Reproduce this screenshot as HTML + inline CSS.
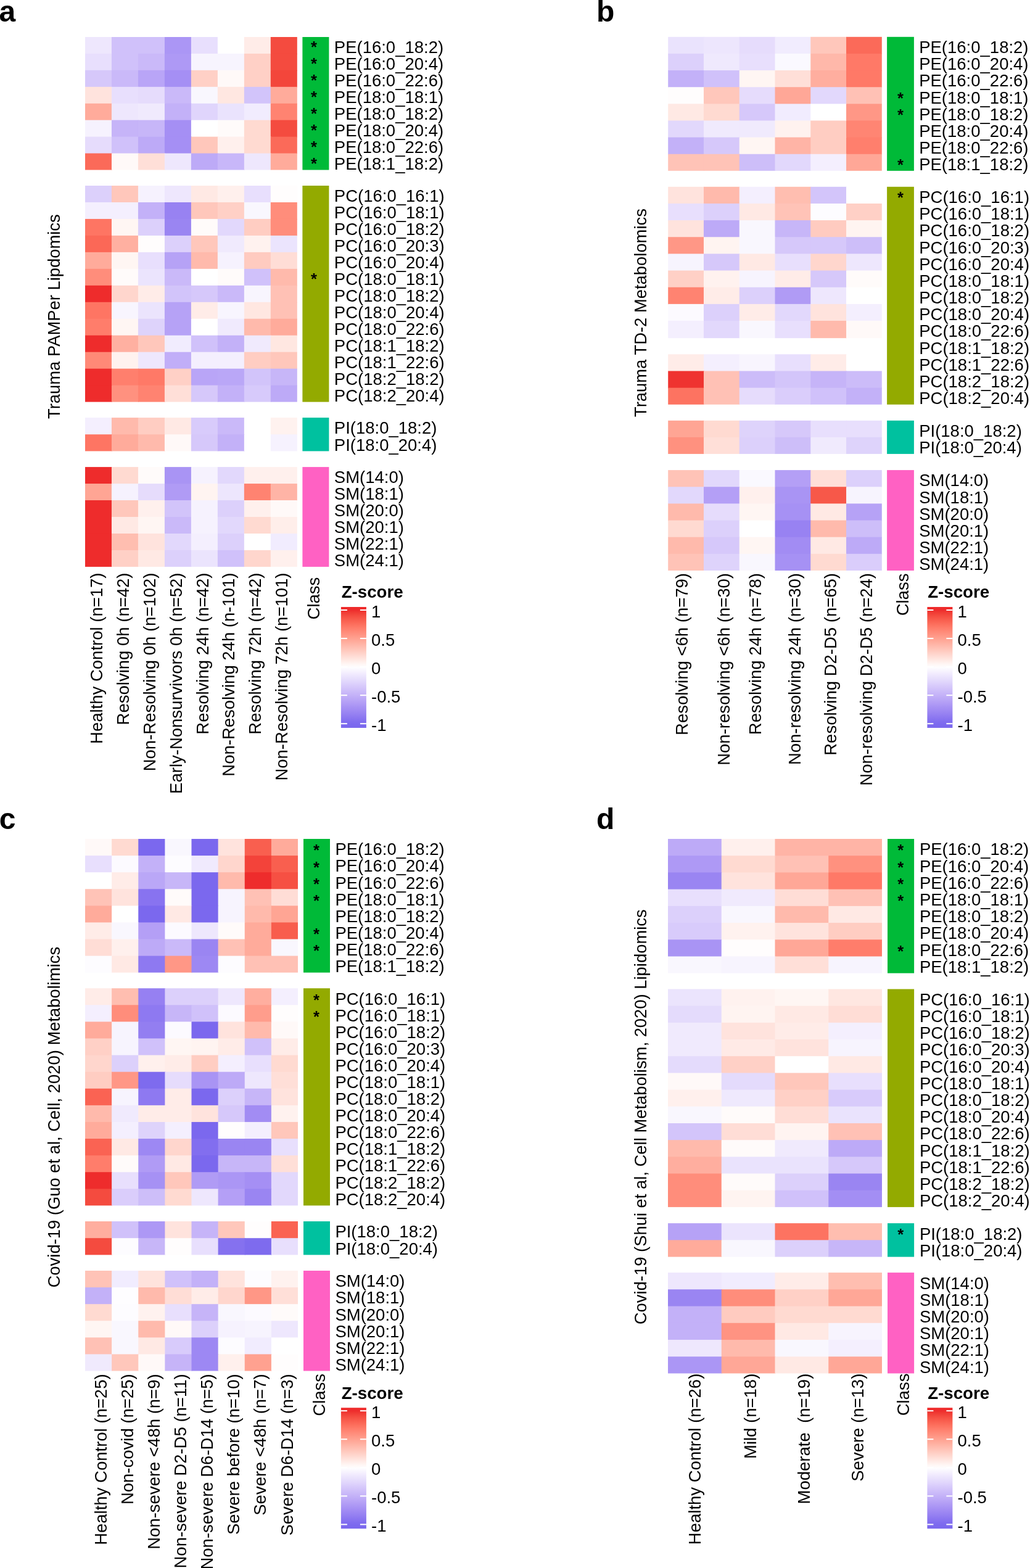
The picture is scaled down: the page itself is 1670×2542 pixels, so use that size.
<!DOCTYPE html>
<html><head><meta charset="utf-8"><title>Heatmaps</title>
<style>
html,body{margin:0;padding:0;background:#fff;}
svg{display:block;}
text{font-family:"Liberation Sans",Arial,sans-serif;fill:#000;}
.rl{font-size:27.5px;}
.cl{font-size:27.5px;text-anchor:end;}
.tt{font-size:27.4px;text-anchor:middle;}
.st{font-size:25.5px;font-weight:bold;text-anchor:middle;}
.lt{font-size:48px;font-weight:bold;}
.zt{font-size:27.7px;font-weight:bold;}
.ll{font-size:27.5px;}
</style></head><body>
<svg width="1670" height="2542" viewBox="0 0 1670 2542">
<defs><linearGradient id="grad" x1="0" y1="0" x2="0" y2="1"><stop offset="0.0000" stop-color="#ee2c2c"/><stop offset="0.0250" stop-color="#ee2c2c"/><stop offset="0.0500" stop-color="#f13e36"/><stop offset="0.0750" stop-color="#f54d41"/><stop offset="0.1000" stop-color="#f85a4b"/><stop offset="0.1250" stop-color="#fb6655"/><stop offset="0.1500" stop-color="#fd7260"/><stop offset="0.1750" stop-color="#ff7d6b"/><stop offset="0.2000" stop-color="#ff8876"/><stop offset="0.2250" stop-color="#ff9281"/><stop offset="0.2500" stop-color="#ff9d8c"/><stop offset="0.2750" stop-color="#ffa797"/><stop offset="0.3000" stop-color="#ffb1a2"/><stop offset="0.3250" stop-color="#ffbbae"/><stop offset="0.3500" stop-color="#ffc5b9"/><stop offset="0.3750" stop-color="#ffcfc5"/><stop offset="0.4000" stop-color="#ffd9d1"/><stop offset="0.4250" stop-color="#ffe3dd"/><stop offset="0.4500" stop-color="#ffede9"/><stop offset="0.4750" stop-color="#fff7f5"/><stop offset="0.5000" stop-color="#fefdff"/><stop offset="0.5250" stop-color="#f8f5fe"/><stop offset="0.5500" stop-color="#f2ecfe"/><stop offset="0.5750" stop-color="#ebe4fd"/><stop offset="0.6000" stop-color="#e5dcfc"/><stop offset="0.6250" stop-color="#dfd4fc"/><stop offset="0.6500" stop-color="#d8cbfb"/><stop offset="0.6750" stop-color="#d2c3fa"/><stop offset="0.7000" stop-color="#cbbbf9"/><stop offset="0.7250" stop-color="#c5b3f8"/><stop offset="0.7500" stop-color="#beabf7"/><stop offset="0.7750" stop-color="#b7a3f6"/><stop offset="0.8000" stop-color="#b09bf5"/><stop offset="0.8250" stop-color="#a893f4"/><stop offset="0.8500" stop-color="#a18bf3"/><stop offset="0.8750" stop-color="#9984f2"/><stop offset="0.9000" stop-color="#917cf1"/><stop offset="0.9250" stop-color="#8974f0"/><stop offset="0.9500" stop-color="#806def"/><stop offset="0.9750" stop-color="#7b68ee"/><stop offset="1.0000" stop-color="#7b68ee"/></linearGradient></defs>
<rect width="1670" height="2542" fill="#fff"/>
<rect x="138" y="60" width="43.98" height="27.94" fill="#eee7fd"/>
<rect x="180.97" y="60" width="43.98" height="27.94" fill="#d0c1fa"/>
<rect x="223.95" y="60" width="43.98" height="27.94" fill="#d0c1fa"/>
<rect x="266.93" y="60" width="43.98" height="27.94" fill="#ab96f5"/>
<rect x="309.9" y="60" width="43.98" height="27.94" fill="#e8dffd"/>
<rect x="352.88" y="60" width="43.98" height="27.94" fill="#ffffff"/>
<rect x="395.85" y="60" width="43.98" height="27.94" fill="#ffece8"/>
<rect x="438.82" y="60" width="42.98" height="27.94" fill="#f44b3f"/>
<rect x="138" y="86.94" width="43.98" height="27.94" fill="#e8dffd"/>
<rect x="180.97" y="86.94" width="43.98" height="27.94" fill="#d0c1fa"/>
<rect x="223.95" y="86.94" width="43.98" height="27.94" fill="#cab9f9"/>
<rect x="266.93" y="86.94" width="43.98" height="27.94" fill="#ae99f5"/>
<rect x="309.9" y="86.94" width="43.98" height="27.94" fill="#f7f4fe"/>
<rect x="352.88" y="86.94" width="43.98" height="27.94" fill="#f7f4fe"/>
<rect x="395.85" y="86.94" width="43.98" height="27.94" fill="#ffd0c6"/>
<rect x="438.82" y="86.94" width="42.98" height="27.94" fill="#f44b3f"/>
<rect x="138" y="113.88" width="43.98" height="27.94" fill="#d6c8fa"/>
<rect x="180.97" y="113.88" width="43.98" height="27.94" fill="#cab9f9"/>
<rect x="223.95" y="113.88" width="43.98" height="27.94" fill="#b9a5f7"/>
<rect x="266.93" y="113.88" width="43.98" height="27.94" fill="#a58ff4"/>
<rect x="309.9" y="113.88" width="43.98" height="27.94" fill="#ffd0c6"/>
<rect x="352.88" y="113.88" width="43.98" height="27.94" fill="#fff9f8"/>
<rect x="395.85" y="113.88" width="43.98" height="27.94" fill="#ffd0c6"/>
<rect x="438.82" y="113.88" width="42.98" height="27.94" fill="#f3463b"/>
<rect x="138" y="140.81" width="43.98" height="27.94" fill="#ffe3dd"/>
<rect x="180.97" y="140.81" width="43.98" height="27.94" fill="#e8dffd"/>
<rect x="223.95" y="140.81" width="43.98" height="27.94" fill="#e6dcfc"/>
<rect x="266.93" y="140.81" width="43.98" height="27.94" fill="#cab9f9"/>
<rect x="309.9" y="140.81" width="43.98" height="27.94" fill="#f9f7fe"/>
<rect x="352.88" y="140.81" width="43.98" height="27.94" fill="#ffe7e1"/>
<rect x="395.85" y="140.81" width="43.98" height="27.94" fill="#d2c4fa"/>
<rect x="438.82" y="140.81" width="42.98" height="27.94" fill="#ffab9b"/>
<rect x="138" y="167.75" width="43.98" height="27.94" fill="#ffab9b"/>
<rect x="180.97" y="167.75" width="43.98" height="27.94" fill="#eee7fd"/>
<rect x="223.95" y="167.75" width="43.98" height="27.94" fill="#f0eafd"/>
<rect x="266.93" y="167.75" width="43.98" height="27.94" fill="#c3b1f8"/>
<rect x="309.9" y="167.75" width="43.98" height="27.94" fill="#e0d5fc"/>
<rect x="352.88" y="167.75" width="43.98" height="27.94" fill="#eae3fd"/>
<rect x="395.85" y="167.75" width="43.98" height="27.94" fill="#f1ecfe"/>
<rect x="438.82" y="167.75" width="42.98" height="27.94" fill="#ff8371"/>
<rect x="138" y="194.69" width="43.98" height="27.94" fill="#f6f2fe"/>
<rect x="180.97" y="194.69" width="43.98" height="27.94" fill="#c6b4f8"/>
<rect x="223.95" y="194.69" width="43.98" height="27.94" fill="#c7b6f8"/>
<rect x="266.93" y="194.69" width="43.98" height="27.94" fill="#a58ff4"/>
<rect x="309.9" y="194.69" width="43.98" height="27.94" fill="#ffffff"/>
<rect x="352.88" y="194.69" width="43.98" height="27.94" fill="#fffbfa"/>
<rect x="395.85" y="194.69" width="43.98" height="27.94" fill="#ffdad1"/>
<rect x="438.82" y="194.69" width="42.98" height="27.94" fill="#f44b3f"/>
<rect x="138" y="221.62" width="43.98" height="27.94" fill="#e6dcfc"/>
<rect x="180.97" y="221.62" width="43.98" height="27.94" fill="#d0c1fa"/>
<rect x="223.95" y="221.62" width="43.98" height="27.94" fill="#bdaaf7"/>
<rect x="266.93" y="221.62" width="43.98" height="27.94" fill="#a58ff4"/>
<rect x="309.9" y="221.62" width="43.98" height="27.94" fill="#ffc7bb"/>
<rect x="352.88" y="221.62" width="43.98" height="27.94" fill="#fff0ed"/>
<rect x="395.85" y="221.62" width="43.98" height="27.94" fill="#ffdad1"/>
<rect x="438.82" y="221.62" width="42.98" height="27.94" fill="#fb6a59"/>
<rect x="138" y="248.56" width="43.98" height="26.94" fill="#fb6a59"/>
<rect x="180.97" y="248.56" width="43.98" height="26.94" fill="#fff9f8"/>
<rect x="223.95" y="248.56" width="43.98" height="26.94" fill="#ffdfd8"/>
<rect x="266.93" y="248.56" width="43.98" height="26.94" fill="#eee7fd"/>
<rect x="309.9" y="248.56" width="43.98" height="26.94" fill="#bdaaf7"/>
<rect x="352.88" y="248.56" width="43.98" height="26.94" fill="#c8b7f9"/>
<rect x="395.85" y="248.56" width="43.98" height="26.94" fill="#eee7fd"/>
<rect x="438.82" y="248.56" width="42.98" height="26.94" fill="#ffab9b"/>
<rect x="490.4" y="60" width="43" height="215.5" fill="#00BA38"/>
<rect x="138" y="301" width="43.98" height="27.97" fill="#dcd0fb"/>
<rect x="180.97" y="301" width="43.98" height="27.97" fill="#ffc7bb"/>
<rect x="223.95" y="301" width="43.98" height="27.97" fill="#f6f2fe"/>
<rect x="266.93" y="301" width="43.98" height="27.97" fill="#eee7fd"/>
<rect x="309.9" y="301" width="43.98" height="27.97" fill="#ffe9e4"/>
<rect x="352.88" y="301" width="43.98" height="27.97" fill="#fff0ed"/>
<rect x="395.85" y="301" width="43.98" height="27.97" fill="#e8dffd"/>
<rect x="438.82" y="301" width="42.98" height="27.97" fill="#fffdfd"/>
<rect x="138" y="327.97" width="43.98" height="27.97" fill="#f4effe"/>
<rect x="180.97" y="327.97" width="43.98" height="27.97" fill="#f4effe"/>
<rect x="223.95" y="327.97" width="43.98" height="27.97" fill="#c3b1f8"/>
<rect x="266.93" y="327.97" width="43.98" height="27.97" fill="#9882f2"/>
<rect x="309.9" y="327.97" width="43.98" height="27.97" fill="#ffc7bb"/>
<rect x="352.88" y="327.97" width="43.98" height="27.97" fill="#ffd0c6"/>
<rect x="395.85" y="327.97" width="43.98" height="27.97" fill="#f9f7fe"/>
<rect x="438.82" y="327.97" width="42.98" height="27.97" fill="#ff8d7b"/>
<rect x="138" y="354.94" width="43.98" height="27.97" fill="#fe7563"/>
<rect x="180.97" y="354.94" width="43.98" height="27.97" fill="#fff6f3"/>
<rect x="223.95" y="354.94" width="43.98" height="27.97" fill="#dcd0fb"/>
<rect x="266.93" y="354.94" width="43.98" height="27.97" fill="#9a85f2"/>
<rect x="309.9" y="354.94" width="43.98" height="27.97" fill="#fffbfa"/>
<rect x="352.88" y="354.94" width="43.98" height="27.97" fill="#e2d8fc"/>
<rect x="395.85" y="354.94" width="43.98" height="27.97" fill="#ffcdc2"/>
<rect x="438.82" y="354.94" width="42.98" height="27.97" fill="#ff8d7b"/>
<rect x="138" y="381.91" width="43.98" height="27.97" fill="#fb6857"/>
<rect x="180.97" y="381.91" width="43.98" height="27.97" fill="#ffb0a1"/>
<rect x="223.95" y="381.91" width="43.98" height="27.97" fill="#fffdfd"/>
<rect x="266.93" y="381.91" width="43.98" height="27.97" fill="#dcd0fb"/>
<rect x="309.9" y="381.91" width="43.98" height="27.97" fill="#ffc7bb"/>
<rect x="352.88" y="381.91" width="43.98" height="27.97" fill="#f0eafd"/>
<rect x="395.85" y="381.91" width="43.98" height="27.97" fill="#fff2ef"/>
<rect x="438.82" y="381.91" width="42.98" height="27.97" fill="#ebe4fd"/>
<rect x="138" y="408.88" width="43.98" height="27.97" fill="#ffab9b"/>
<rect x="180.97" y="408.88" width="43.98" height="27.97" fill="#fff6f3"/>
<rect x="223.95" y="408.88" width="43.98" height="27.97" fill="#e8dffd"/>
<rect x="266.93" y="408.88" width="43.98" height="27.97" fill="#b6a2f6"/>
<rect x="309.9" y="408.88" width="43.98" height="27.97" fill="#ffbaac"/>
<rect x="352.88" y="408.88" width="43.98" height="27.97" fill="#f6f2fe"/>
<rect x="395.85" y="408.88" width="43.98" height="27.97" fill="#ffcbc0"/>
<rect x="438.82" y="408.88" width="42.98" height="27.97" fill="#ffddd6"/>
<rect x="138" y="435.85" width="43.98" height="27.97" fill="#ff8d7b"/>
<rect x="180.97" y="435.85" width="43.98" height="27.97" fill="#fffbfa"/>
<rect x="223.95" y="435.85" width="43.98" height="27.97" fill="#ebe4fd"/>
<rect x="266.93" y="435.85" width="43.98" height="27.97" fill="#cab9f9"/>
<rect x="309.9" y="435.85" width="43.98" height="27.97" fill="#ffffff"/>
<rect x="352.88" y="435.85" width="43.98" height="27.97" fill="#fffbfa"/>
<rect x="395.85" y="435.85" width="43.98" height="27.97" fill="#d0c1fa"/>
<rect x="438.82" y="435.85" width="42.98" height="27.97" fill="#ffbaac"/>
<rect x="138" y="462.82" width="43.98" height="27.97" fill="#ee2c2c"/>
<rect x="180.97" y="462.82" width="43.98" height="27.97" fill="#ffd6cd"/>
<rect x="223.95" y="462.82" width="43.98" height="27.97" fill="#ffece8"/>
<rect x="266.93" y="462.82" width="43.98" height="27.97" fill="#d2c4fa"/>
<rect x="309.9" y="462.82" width="43.98" height="27.97" fill="#d6c8fa"/>
<rect x="352.88" y="462.82" width="43.98" height="27.97" fill="#cab9f9"/>
<rect x="395.85" y="462.82" width="43.98" height="27.97" fill="#f8f5fe"/>
<rect x="438.82" y="462.82" width="42.98" height="27.97" fill="#ffc1b5"/>
<rect x="138" y="489.78" width="43.98" height="27.97" fill="#fe7563"/>
<rect x="180.97" y="489.78" width="43.98" height="27.97" fill="#f8f5fe"/>
<rect x="223.95" y="489.78" width="43.98" height="27.97" fill="#ebe4fd"/>
<rect x="266.93" y="489.78" width="43.98" height="27.97" fill="#b6a2f6"/>
<rect x="309.9" y="489.78" width="43.98" height="27.97" fill="#ffece8"/>
<rect x="352.88" y="489.78" width="43.98" height="27.97" fill="#f8f5fe"/>
<rect x="395.85" y="489.78" width="43.98" height="27.97" fill="#ffe7e1"/>
<rect x="438.82" y="489.78" width="42.98" height="27.97" fill="#ffc1b5"/>
<rect x="138" y="516.75" width="43.98" height="27.97" fill="#ff7d6b"/>
<rect x="180.97" y="516.75" width="43.98" height="27.97" fill="#fff6f3"/>
<rect x="223.95" y="516.75" width="43.98" height="27.97" fill="#ded3fb"/>
<rect x="266.93" y="516.75" width="43.98" height="27.97" fill="#b6a2f6"/>
<rect x="309.9" y="516.75" width="43.98" height="27.97" fill="#ffffff"/>
<rect x="352.88" y="516.75" width="43.98" height="27.97" fill="#f0eafd"/>
<rect x="395.85" y="516.75" width="43.98" height="27.97" fill="#ffbaac"/>
<rect x="438.82" y="516.75" width="42.98" height="27.97" fill="#ffab9b"/>
<rect x="138" y="543.72" width="43.98" height="27.97" fill="#ee2c2c"/>
<rect x="180.97" y="543.72" width="43.98" height="27.97" fill="#ffb0a1"/>
<rect x="223.95" y="543.72" width="43.98" height="27.97" fill="#ffc7bb"/>
<rect x="266.93" y="543.72" width="43.98" height="27.97" fill="#f1ecfe"/>
<rect x="309.9" y="543.72" width="43.98" height="27.97" fill="#d0c1fa"/>
<rect x="352.88" y="543.72" width="43.98" height="27.97" fill="#c3b1f8"/>
<rect x="395.85" y="543.72" width="43.98" height="27.97" fill="#f0eafd"/>
<rect x="438.82" y="543.72" width="42.98" height="27.97" fill="#ffe7e1"/>
<rect x="138" y="570.69" width="43.98" height="27.97" fill="#ff8977"/>
<rect x="180.97" y="570.69" width="43.98" height="27.97" fill="#fff2ef"/>
<rect x="223.95" y="570.69" width="43.98" height="27.97" fill="#eee7fd"/>
<rect x="266.93" y="570.69" width="43.98" height="27.97" fill="#c1aef8"/>
<rect x="309.9" y="570.69" width="43.98" height="27.97" fill="#f4effe"/>
<rect x="352.88" y="570.69" width="43.98" height="27.97" fill="#f4effe"/>
<rect x="395.85" y="570.69" width="43.98" height="27.97" fill="#ffcdc2"/>
<rect x="438.82" y="570.69" width="42.98" height="27.97" fill="#ffc7bb"/>
<rect x="138" y="597.66" width="43.98" height="27.97" fill="#ee2c2c"/>
<rect x="180.97" y="597.66" width="43.98" height="27.97" fill="#ff7f6d"/>
<rect x="223.95" y="597.66" width="43.98" height="27.97" fill="#ff7967"/>
<rect x="266.93" y="597.66" width="43.98" height="27.97" fill="#ffd0c6"/>
<rect x="309.9" y="597.66" width="43.98" height="27.97" fill="#b9a5f7"/>
<rect x="352.88" y="597.66" width="43.98" height="27.97" fill="#baa7f7"/>
<rect x="395.85" y="597.66" width="43.98" height="27.97" fill="#d2c4fa"/>
<rect x="438.82" y="597.66" width="42.98" height="27.97" fill="#c7b6f8"/>
<rect x="138" y="624.63" width="43.98" height="26.97" fill="#ee2c2c"/>
<rect x="180.97" y="624.63" width="43.98" height="26.97" fill="#ff917f"/>
<rect x="223.95" y="624.63" width="43.98" height="26.97" fill="#ff8371"/>
<rect x="266.93" y="624.63" width="43.98" height="26.97" fill="#ffdfd8"/>
<rect x="309.9" y="624.63" width="43.98" height="26.97" fill="#d6c8fa"/>
<rect x="352.88" y="624.63" width="43.98" height="26.97" fill="#c3b1f8"/>
<rect x="395.85" y="624.63" width="43.98" height="26.97" fill="#d7cafb"/>
<rect x="438.82" y="624.63" width="42.98" height="26.97" fill="#bdaaf7"/>
<rect x="490.4" y="301" width="43" height="350.6" fill="#93AA00"/>
<rect x="138" y="677.1" width="43.98" height="28.15" fill="#f4effe"/>
<rect x="180.97" y="677.1" width="43.98" height="28.15" fill="#ffbaac"/>
<rect x="223.95" y="677.1" width="43.98" height="28.15" fill="#ffcdc2"/>
<rect x="266.93" y="677.1" width="43.98" height="28.15" fill="#ffe9e4"/>
<rect x="309.9" y="677.1" width="43.98" height="28.15" fill="#d8cbfb"/>
<rect x="352.88" y="677.1" width="43.98" height="28.15" fill="#cab9f9"/>
<rect x="395.85" y="677.1" width="43.98" height="28.15" fill="#ffffff"/>
<rect x="438.82" y="677.1" width="42.98" height="28.15" fill="#fff2ef"/>
<rect x="138" y="704.25" width="43.98" height="27.15" fill="#fe7563"/>
<rect x="180.97" y="704.25" width="43.98" height="27.15" fill="#ffab9b"/>
<rect x="223.95" y="704.25" width="43.98" height="27.15" fill="#ffbaac"/>
<rect x="266.93" y="704.25" width="43.98" height="27.15" fill="#fff9f8"/>
<rect x="309.9" y="704.25" width="43.98" height="27.15" fill="#d6c8fa"/>
<rect x="352.88" y="704.25" width="43.98" height="27.15" fill="#c3b1f8"/>
<rect x="395.85" y="704.25" width="43.98" height="27.15" fill="#ffffff"/>
<rect x="438.82" y="704.25" width="42.98" height="27.15" fill="#f6f2fe"/>
<rect x="490.4" y="677.1" width="43" height="54.3" fill="#00C19F"/>
<rect x="138" y="757.1" width="43.98" height="27.97" fill="#ee2c2c"/>
<rect x="180.97" y="757.1" width="43.98" height="27.97" fill="#ffdad1"/>
<rect x="223.95" y="757.1" width="43.98" height="27.97" fill="#fffbfa"/>
<rect x="266.93" y="757.1" width="43.98" height="27.97" fill="#a994f4"/>
<rect x="309.9" y="757.1" width="43.98" height="27.97" fill="#f6f2fe"/>
<rect x="352.88" y="757.1" width="43.98" height="27.97" fill="#e2d8fc"/>
<rect x="395.85" y="757.1" width="43.98" height="27.97" fill="#fff0ed"/>
<rect x="438.82" y="757.1" width="42.98" height="27.97" fill="#fff0ed"/>
<rect x="138" y="784.07" width="43.98" height="27.97" fill="#ffa594"/>
<rect x="180.97" y="784.07" width="43.98" height="27.97" fill="#f6f2fe"/>
<rect x="223.95" y="784.07" width="43.98" height="27.97" fill="#e6dcfc"/>
<rect x="266.93" y="784.07" width="43.98" height="27.97" fill="#b09bf5"/>
<rect x="309.9" y="784.07" width="43.98" height="27.97" fill="#fff4f1"/>
<rect x="352.88" y="784.07" width="43.98" height="27.97" fill="#ede6fd"/>
<rect x="395.85" y="784.07" width="43.98" height="27.97" fill="#ff8371"/>
<rect x="438.82" y="784.07" width="42.98" height="27.97" fill="#ffb4a6"/>
<rect x="138" y="811.03" width="43.98" height="27.97" fill="#ee2c2c"/>
<rect x="180.97" y="811.03" width="43.98" height="27.97" fill="#ffc7bb"/>
<rect x="223.95" y="811.03" width="43.98" height="27.97" fill="#fff0ed"/>
<rect x="266.93" y="811.03" width="43.98" height="27.97" fill="#d2c4fa"/>
<rect x="309.9" y="811.03" width="43.98" height="27.97" fill="#f6f2fe"/>
<rect x="352.88" y="811.03" width="43.98" height="27.97" fill="#dcd0fb"/>
<rect x="395.85" y="811.03" width="43.98" height="27.97" fill="#fff0ed"/>
<rect x="438.82" y="811.03" width="42.98" height="27.97" fill="#fff9f8"/>
<rect x="138" y="838" width="43.98" height="27.97" fill="#ee2c2c"/>
<rect x="180.97" y="838" width="43.98" height="27.97" fill="#ffe9e4"/>
<rect x="223.95" y="838" width="43.98" height="27.97" fill="#fff6f3"/>
<rect x="266.93" y="838" width="43.98" height="27.97" fill="#cab9f9"/>
<rect x="309.9" y="838" width="43.98" height="27.97" fill="#f6f2fe"/>
<rect x="352.88" y="838" width="43.98" height="27.97" fill="#e2d8fc"/>
<rect x="395.85" y="838" width="43.98" height="27.97" fill="#ffdad1"/>
<rect x="438.82" y="838" width="42.98" height="27.97" fill="#ffeeea"/>
<rect x="138" y="864.97" width="43.98" height="27.97" fill="#ee2c2c"/>
<rect x="180.97" y="864.97" width="43.98" height="27.97" fill="#ffbeb0"/>
<rect x="223.95" y="864.97" width="43.98" height="27.97" fill="#ffe3dd"/>
<rect x="266.93" y="864.97" width="43.98" height="27.97" fill="#e2d8fc"/>
<rect x="309.9" y="864.97" width="43.98" height="27.97" fill="#f4effe"/>
<rect x="352.88" y="864.97" width="43.98" height="27.97" fill="#dcd0fb"/>
<rect x="395.85" y="864.97" width="43.98" height="27.97" fill="#ffffff"/>
<rect x="438.82" y="864.97" width="42.98" height="27.97" fill="#f1ecfe"/>
<rect x="138" y="891.93" width="43.98" height="26.97" fill="#ee2c2c"/>
<rect x="180.97" y="891.93" width="43.98" height="26.97" fill="#ffd0c6"/>
<rect x="223.95" y="891.93" width="43.98" height="26.97" fill="#ffe9e4"/>
<rect x="266.93" y="891.93" width="43.98" height="26.97" fill="#dcd0fb"/>
<rect x="309.9" y="891.93" width="43.98" height="26.97" fill="#ebe4fd"/>
<rect x="352.88" y="891.93" width="43.98" height="26.97" fill="#d0c1fa"/>
<rect x="395.85" y="891.93" width="43.98" height="26.97" fill="#ffd6cd"/>
<rect x="438.82" y="891.93" width="42.98" height="26.97" fill="#fff0ed"/>
<rect x="490.4" y="757.1" width="43" height="161.8" fill="#FF61C3"/>
<text class="st" x="509" y="85.47">*</text>
<text class="st" x="509" y="112.41">*</text>
<text class="st" x="509" y="139.34">*</text>
<text class="st" x="509" y="166.28">*</text>
<text class="st" x="509" y="193.22">*</text>
<text class="st" x="509" y="220.16">*</text>
<text class="st" x="509" y="247.09">*</text>
<text class="st" x="509" y="274.03">*</text>
<text class="st" x="509" y="461.33">*</text>
<text class="rl" x="541.8" y="86.27">PE(16:0_18:2)</text>
<text class="rl" x="541.8" y="113.21">PE(16:0_20:4)</text>
<text class="rl" x="541.8" y="140.14">PE(16:0_22:6)</text>
<text class="rl" x="541.8" y="167.08">PE(18:0_18:1)</text>
<text class="rl" x="541.8" y="194.02">PE(18:0_18:2)</text>
<text class="rl" x="541.8" y="220.96">PE(18:0_20:4)</text>
<text class="rl" x="541.8" y="247.89">PE(18:0_22:6)</text>
<text class="rl" x="541.8" y="274.83">PE(18:1_18:2)</text>
<text class="rl" x="541.8" y="327.28">PC(16:0_16:1)</text>
<text class="rl" x="541.8" y="354.25">PC(16:0_18:1)</text>
<text class="rl" x="541.8" y="381.22">PC(16:0_18:2)</text>
<text class="rl" x="541.8" y="408.19">PC(16:0_20:3)</text>
<text class="rl" x="541.8" y="435.16">PC(16:0_20:4)</text>
<text class="rl" x="541.8" y="462.13">PC(18:0_18:1)</text>
<text class="rl" x="541.8" y="489.1">PC(18:0_18:2)</text>
<text class="rl" x="541.8" y="516.07">PC(18:0_20:4)</text>
<text class="rl" x="541.8" y="543.04">PC(18:0_22:6)</text>
<text class="rl" x="541.8" y="570.01">PC(18:1_18:2)</text>
<text class="rl" x="541.8" y="596.98">PC(18:1_22:6)</text>
<text class="rl" x="541.8" y="623.95">PC(18:2_18:2)</text>
<text class="rl" x="541.8" y="650.92">PC(18:2_20:4)</text>
<text class="rl" x="541.8" y="703.47">PI(18:0_18:2)</text>
<text class="rl" x="541.8" y="730.62">PI(18:0_20:4)</text>
<text class="rl" x="541.8" y="783.38">SM(14:0)</text>
<text class="rl" x="541.8" y="810.35">SM(18:1)</text>
<text class="rl" x="541.8" y="837.32">SM(20:0)</text>
<text class="rl" x="541.8" y="864.28">SM(20:1)</text>
<text class="rl" x="541.8" y="891.25">SM(22:1)</text>
<text class="rl" x="541.8" y="918.22">SM(24:1)</text>
<text class="cl" transform="translate(165.7 928.5) rotate(-90)">Healthy Control (n=17)</text>
<text class="cl" transform="translate(208.7 928.5) rotate(-90)">Resolving 0h (n=42)</text>
<text class="cl" transform="translate(251.8 928.5) rotate(-90)">Non-Resolving 0h (n=102)</text>
<text class="cl" transform="translate(294.7 928.5) rotate(-90)">Early-Nonsurvivors 0h (n=52)</text>
<text class="cl" transform="translate(337.7 928.5) rotate(-90)">Resolving 24h (n=42)</text>
<text class="cl" transform="translate(380.4 928.5) rotate(-90)">Non-Resolving 24h (n-101)</text>
<text class="cl" transform="translate(423.3 928.5) rotate(-90)">Resolving 72h (n=42)</text>
<text class="cl" transform="translate(466.4 928.5) rotate(-90)">Non-Resolving 72h (n=101)</text>
<text class="cl" transform="translate(518.1 935.7) rotate(-90)">Class</text>
<text class="tt" transform="translate(97.3 513.15) rotate(-90)">Trauma PAMPer Lipdomics</text>
<text class="lt" x="-1.4" y="35">a</text>
<text class="zt" x="553.7" y="969.4">Z-score</text>
<rect x="552.9" y="984" width="41" height="196" fill="url(#grad)"/>
<rect x="552.9" y="988" width="10" height="2" fill="#fff"/>
<rect x="583.9" y="988" width="10" height="2" fill="#fff"/>
<text class="ll" x="602" y="1001">1</text>
<rect x="552.9" y="1034.05" width="10" height="2" fill="#fff"/>
<rect x="583.9" y="1034.05" width="10" height="2" fill="#fff"/>
<text class="ll" x="602" y="1047.05">0.5</text>
<rect x="552.9" y="1080.1" width="10" height="2" fill="#fff"/>
<rect x="583.9" y="1080.1" width="10" height="2" fill="#fff"/>
<text class="ll" x="602" y="1093.1">0</text>
<rect x="552.9" y="1126.15" width="10" height="2" fill="#fff"/>
<rect x="583.9" y="1126.15" width="10" height="2" fill="#fff"/>
<text class="ll" x="602" y="1139.15">-0.5</text>
<rect x="552.9" y="1172.2" width="10" height="2" fill="#fff"/>
<rect x="583.9" y="1172.2" width="10" height="2" fill="#fff"/>
<text class="ll" x="602" y="1185.2">-1</text>
<rect x="1083.2" y="59.8" width="58.77" height="28.14" fill="#eae3fd"/>
<rect x="1140.97" y="59.8" width="58.77" height="28.14" fill="#ede6fd"/>
<rect x="1198.73" y="59.8" width="58.77" height="28.14" fill="#e6dcfc"/>
<rect x="1256.5" y="59.8" width="58.77" height="28.14" fill="#f1ecfe"/>
<rect x="1314.27" y="59.8" width="58.77" height="28.14" fill="#ffc7bb"/>
<rect x="1372.03" y="59.8" width="57.77" height="28.14" fill="#fb6a59"/>
<rect x="1083.2" y="86.94" width="58.77" height="28.14" fill="#dcd0fb"/>
<rect x="1140.97" y="86.94" width="58.77" height="28.14" fill="#efe9fd"/>
<rect x="1198.73" y="86.94" width="58.77" height="28.14" fill="#e8dffd"/>
<rect x="1256.5" y="86.94" width="58.77" height="28.14" fill="#faf9ff"/>
<rect x="1314.27" y="86.94" width="58.77" height="28.14" fill="#ffb8aa"/>
<rect x="1372.03" y="86.94" width="57.77" height="28.14" fill="#ff7967"/>
<rect x="1083.2" y="114.07" width="58.77" height="28.14" fill="#c3b1f8"/>
<rect x="1140.97" y="114.07" width="58.77" height="28.14" fill="#d0c1fa"/>
<rect x="1198.73" y="114.07" width="58.77" height="28.14" fill="#fff6f3"/>
<rect x="1256.5" y="114.07" width="58.77" height="28.14" fill="#ffdfd8"/>
<rect x="1314.27" y="114.07" width="58.77" height="28.14" fill="#ffae9f"/>
<rect x="1372.03" y="114.07" width="57.77" height="28.14" fill="#ff7967"/>
<rect x="1083.2" y="141.21" width="58.77" height="28.14" fill="#fffdfd"/>
<rect x="1140.97" y="141.21" width="58.77" height="28.14" fill="#ffc7bb"/>
<rect x="1198.73" y="141.21" width="58.77" height="28.14" fill="#e6dcfc"/>
<rect x="1256.5" y="141.21" width="58.77" height="28.14" fill="#ffa797"/>
<rect x="1314.27" y="141.21" width="58.77" height="28.14" fill="#e2d8fc"/>
<rect x="1372.03" y="141.21" width="57.77" height="28.14" fill="#ffc1b5"/>
<rect x="1083.2" y="168.35" width="58.77" height="28.14" fill="#ffe9e4"/>
<rect x="1140.97" y="168.35" width="58.77" height="28.14" fill="#ffdad1"/>
<rect x="1198.73" y="168.35" width="58.77" height="28.14" fill="#d6c8fa"/>
<rect x="1256.5" y="168.35" width="58.77" height="28.14" fill="#f1ecfe"/>
<rect x="1314.27" y="168.35" width="58.77" height="28.14" fill="#ffffff"/>
<rect x="1372.03" y="168.35" width="57.77" height="28.14" fill="#ff9786"/>
<rect x="1083.2" y="195.49" width="58.77" height="28.14" fill="#e2d8fc"/>
<rect x="1140.97" y="195.49" width="58.77" height="28.14" fill="#f0eafd"/>
<rect x="1198.73" y="195.49" width="58.77" height="28.14" fill="#f0eafd"/>
<rect x="1256.5" y="195.49" width="58.77" height="28.14" fill="#fff2ef"/>
<rect x="1314.27" y="195.49" width="58.77" height="28.14" fill="#ffcdc2"/>
<rect x="1372.03" y="195.49" width="57.77" height="28.14" fill="#ff8573"/>
<rect x="1083.2" y="222.62" width="58.77" height="28.14" fill="#c3b1f8"/>
<rect x="1140.97" y="222.62" width="58.77" height="28.14" fill="#d6c8fa"/>
<rect x="1198.73" y="222.62" width="58.77" height="28.14" fill="#fff6f3"/>
<rect x="1256.5" y="222.62" width="58.77" height="28.14" fill="#ffb4a6"/>
<rect x="1314.27" y="222.62" width="58.77" height="28.14" fill="#ffcdc2"/>
<rect x="1372.03" y="222.62" width="57.77" height="28.14" fill="#ff7f6d"/>
<rect x="1083.2" y="249.76" width="58.77" height="27.14" fill="#ffc3b7"/>
<rect x="1140.97" y="249.76" width="58.77" height="27.14" fill="#ffc3b7"/>
<rect x="1198.73" y="249.76" width="58.77" height="27.14" fill="#cdbef9"/>
<rect x="1256.5" y="249.76" width="58.77" height="27.14" fill="#e2d8fc"/>
<rect x="1314.27" y="249.76" width="58.77" height="27.14" fill="#f4effe"/>
<rect x="1372.03" y="249.76" width="57.77" height="27.14" fill="#ffa797"/>
<rect x="1438.1" y="59.8" width="43.8" height="217.1" fill="#00BA38"/>
<rect x="1083.2" y="302.8" width="58.77" height="28.15" fill="#ffe3dd"/>
<rect x="1140.97" y="302.8" width="58.77" height="28.15" fill="#ffbaac"/>
<rect x="1198.73" y="302.8" width="58.77" height="28.15" fill="#f4effe"/>
<rect x="1256.5" y="302.8" width="58.77" height="28.15" fill="#ffbeb0"/>
<rect x="1314.27" y="302.8" width="58.77" height="28.15" fill="#d3c5fa"/>
<rect x="1372.03" y="302.8" width="57.77" height="28.15" fill="#ffffff"/>
<rect x="1083.2" y="329.95" width="58.77" height="28.15" fill="#e8dffd"/>
<rect x="1140.97" y="329.95" width="58.77" height="28.15" fill="#dcd0fb"/>
<rect x="1198.73" y="329.95" width="58.77" height="28.15" fill="#ffe9e4"/>
<rect x="1256.5" y="329.95" width="58.77" height="28.15" fill="#ffc3b7"/>
<rect x="1314.27" y="329.95" width="58.77" height="28.15" fill="#fdfcff"/>
<rect x="1372.03" y="329.95" width="57.77" height="28.15" fill="#ffd0c6"/>
<rect x="1083.2" y="357.11" width="58.77" height="28.15" fill="#ffe3dd"/>
<rect x="1140.97" y="357.11" width="58.77" height="28.15" fill="#bdaaf7"/>
<rect x="1198.73" y="357.11" width="58.77" height="28.15" fill="#f9f7fe"/>
<rect x="1256.5" y="357.11" width="58.77" height="28.15" fill="#c7b6f8"/>
<rect x="1314.27" y="357.11" width="58.77" height="28.15" fill="#ffcbc0"/>
<rect x="1372.03" y="357.11" width="57.77" height="28.15" fill="#fff4f1"/>
<rect x="1083.2" y="384.26" width="58.77" height="28.15" fill="#ff9786"/>
<rect x="1140.97" y="384.26" width="58.77" height="28.15" fill="#fff4f1"/>
<rect x="1198.73" y="384.26" width="58.77" height="28.15" fill="#f9f7fe"/>
<rect x="1256.5" y="384.26" width="58.77" height="28.15" fill="#d6c8fa"/>
<rect x="1314.27" y="384.26" width="58.77" height="28.15" fill="#d6c8fa"/>
<rect x="1372.03" y="384.26" width="57.77" height="28.15" fill="#cdbef9"/>
<rect x="1083.2" y="411.42" width="58.77" height="28.15" fill="#f7f4fe"/>
<rect x="1140.97" y="411.42" width="58.77" height="28.15" fill="#d6c8fa"/>
<rect x="1198.73" y="411.42" width="58.77" height="28.15" fill="#ffe9e4"/>
<rect x="1256.5" y="411.42" width="58.77" height="28.15" fill="#e8dffd"/>
<rect x="1314.27" y="411.42" width="58.77" height="28.15" fill="#ffd6cd"/>
<rect x="1372.03" y="411.42" width="57.77" height="28.15" fill="#eee7fd"/>
<rect x="1083.2" y="438.57" width="58.77" height="28.15" fill="#ffd0c6"/>
<rect x="1140.97" y="438.57" width="58.77" height="28.15" fill="#fff2ef"/>
<rect x="1198.73" y="438.57" width="58.77" height="28.15" fill="#f7f4fe"/>
<rect x="1256.5" y="438.57" width="58.77" height="28.15" fill="#ffece8"/>
<rect x="1314.27" y="438.57" width="58.77" height="28.15" fill="#d6c8fa"/>
<rect x="1372.03" y="438.57" width="57.77" height="28.15" fill="#fffbfa"/>
<rect x="1083.2" y="465.72" width="58.77" height="28.15" fill="#ff8371"/>
<rect x="1140.97" y="465.72" width="58.77" height="28.15" fill="#ffece8"/>
<rect x="1198.73" y="465.72" width="58.77" height="28.15" fill="#dcd0fb"/>
<rect x="1256.5" y="465.72" width="58.77" height="28.15" fill="#b09bf5"/>
<rect x="1314.27" y="465.72" width="58.77" height="28.15" fill="#eee7fd"/>
<rect x="1372.03" y="465.72" width="57.77" height="28.15" fill="#ffffff"/>
<rect x="1083.2" y="492.88" width="58.77" height="28.15" fill="#fcfaff"/>
<rect x="1140.97" y="492.88" width="58.77" height="28.15" fill="#dcd0fb"/>
<rect x="1198.73" y="492.88" width="58.77" height="28.15" fill="#ffece8"/>
<rect x="1256.5" y="492.88" width="58.77" height="28.15" fill="#e2d8fc"/>
<rect x="1314.27" y="492.88" width="58.77" height="28.15" fill="#ffe3dd"/>
<rect x="1372.03" y="492.88" width="57.77" height="28.15" fill="#f4effe"/>
<rect x="1083.2" y="520.03" width="58.77" height="28.15" fill="#f4effe"/>
<rect x="1140.97" y="520.03" width="58.77" height="28.15" fill="#e2d8fc"/>
<rect x="1198.73" y="520.03" width="58.77" height="28.15" fill="#f9f7fe"/>
<rect x="1256.5" y="520.03" width="58.77" height="28.15" fill="#e8dffd"/>
<rect x="1314.27" y="520.03" width="58.77" height="28.15" fill="#ffbaac"/>
<rect x="1372.03" y="520.03" width="57.77" height="28.15" fill="#fff9f8"/>
<rect x="1083.2" y="574.34" width="58.77" height="28.15" fill="#ffece8"/>
<rect x="1140.97" y="574.34" width="58.77" height="28.15" fill="#f4effe"/>
<rect x="1198.73" y="574.34" width="58.77" height="28.15" fill="#f8f5fe"/>
<rect x="1256.5" y="574.34" width="58.77" height="28.15" fill="#e8dffd"/>
<rect x="1314.27" y="574.34" width="58.77" height="28.15" fill="#ffece8"/>
<rect x="1372.03" y="574.34" width="57.77" height="28.15" fill="#ffffff"/>
<rect x="1083.2" y="601.49" width="58.77" height="28.15" fill="#ef3330"/>
<rect x="1140.97" y="601.49" width="58.77" height="28.15" fill="#ffc1b5"/>
<rect x="1198.73" y="601.49" width="58.77" height="28.15" fill="#ccbcf9"/>
<rect x="1256.5" y="601.49" width="58.77" height="28.15" fill="#d3c5fa"/>
<rect x="1314.27" y="601.49" width="58.77" height="28.15" fill="#c6b4f8"/>
<rect x="1372.03" y="601.49" width="57.77" height="28.15" fill="#ccbcf9"/>
<rect x="1083.2" y="628.65" width="58.77" height="27.15" fill="#fd7361"/>
<rect x="1140.97" y="628.65" width="58.77" height="27.15" fill="#ffc1b5"/>
<rect x="1198.73" y="628.65" width="58.77" height="27.15" fill="#e6dcfc"/>
<rect x="1256.5" y="628.65" width="58.77" height="27.15" fill="#dacdfb"/>
<rect x="1314.27" y="628.65" width="58.77" height="27.15" fill="#d0c1fa"/>
<rect x="1372.03" y="628.65" width="57.77" height="27.15" fill="#c3b1f8"/>
<rect x="1438.1" y="302.8" width="43.8" height="353" fill="#93AA00"/>
<rect x="1083.2" y="681.8" width="58.77" height="28.05" fill="#ffa594"/>
<rect x="1140.97" y="681.8" width="58.77" height="28.05" fill="#ffdad1"/>
<rect x="1198.73" y="681.8" width="58.77" height="28.05" fill="#ded3fb"/>
<rect x="1256.5" y="681.8" width="58.77" height="28.05" fill="#d6c8fa"/>
<rect x="1314.27" y="681.8" width="58.77" height="28.05" fill="#e8dffd"/>
<rect x="1372.03" y="681.8" width="57.77" height="28.05" fill="#e8dffd"/>
<rect x="1083.2" y="708.85" width="58.77" height="27.05" fill="#ff917f"/>
<rect x="1140.97" y="708.85" width="58.77" height="27.05" fill="#ffdfd8"/>
<rect x="1198.73" y="708.85" width="58.77" height="27.05" fill="#dcd0fb"/>
<rect x="1256.5" y="708.85" width="58.77" height="27.05" fill="#cdbef9"/>
<rect x="1314.27" y="708.85" width="58.77" height="27.05" fill="#f0eafd"/>
<rect x="1372.03" y="708.85" width="57.77" height="27.05" fill="#ded3fb"/>
<rect x="1438.1" y="681.8" width="43.8" height="54.1" fill="#00C19F"/>
<rect x="1083.2" y="762.1" width="58.77" height="28.15" fill="#ffc3b7"/>
<rect x="1140.97" y="762.1" width="58.77" height="28.15" fill="#e2d8fc"/>
<rect x="1198.73" y="762.1" width="58.77" height="28.15" fill="#faf9ff"/>
<rect x="1256.5" y="762.1" width="58.77" height="28.15" fill="#b49ff6"/>
<rect x="1314.27" y="762.1" width="58.77" height="28.15" fill="#ffdfd8"/>
<rect x="1372.03" y="762.1" width="57.77" height="28.15" fill="#dcd0fb"/>
<rect x="1083.2" y="789.25" width="58.77" height="28.15" fill="#e2d8fc"/>
<rect x="1140.97" y="789.25" width="58.77" height="28.15" fill="#b49ff6"/>
<rect x="1198.73" y="789.25" width="58.77" height="28.15" fill="#fff0ed"/>
<rect x="1256.5" y="789.25" width="58.77" height="28.15" fill="#a994f4"/>
<rect x="1314.27" y="789.25" width="58.77" height="28.15" fill="#f75849"/>
<rect x="1372.03" y="789.25" width="57.77" height="28.15" fill="#f7f4fe"/>
<rect x="1083.2" y="816.4" width="58.77" height="28.15" fill="#ffbaac"/>
<rect x="1140.97" y="816.4" width="58.77" height="28.15" fill="#e6dcfc"/>
<rect x="1198.73" y="816.4" width="58.77" height="28.15" fill="#fff6f3"/>
<rect x="1256.5" y="816.4" width="58.77" height="28.15" fill="#a691f4"/>
<rect x="1314.27" y="816.4" width="58.77" height="28.15" fill="#ffe9e4"/>
<rect x="1372.03" y="816.4" width="57.77" height="28.15" fill="#b6a2f6"/>
<rect x="1083.2" y="843.55" width="58.77" height="28.15" fill="#ffdad1"/>
<rect x="1140.97" y="843.55" width="58.77" height="28.15" fill="#dcd0fb"/>
<rect x="1198.73" y="843.55" width="58.77" height="28.15" fill="#ffffff"/>
<rect x="1256.5" y="843.55" width="58.77" height="28.15" fill="#9882f2"/>
<rect x="1314.27" y="843.55" width="58.77" height="28.15" fill="#ffbaac"/>
<rect x="1372.03" y="843.55" width="57.77" height="28.15" fill="#cdbef9"/>
<rect x="1083.2" y="870.7" width="58.77" height="28.15" fill="#ffbaac"/>
<rect x="1140.97" y="870.7" width="58.77" height="28.15" fill="#d6c8fa"/>
<rect x="1198.73" y="870.7" width="58.77" height="28.15" fill="#fff6f3"/>
<rect x="1256.5" y="870.7" width="58.77" height="28.15" fill="#a28cf3"/>
<rect x="1314.27" y="870.7" width="58.77" height="28.15" fill="#ffe9e4"/>
<rect x="1372.03" y="870.7" width="57.77" height="28.15" fill="#bdaaf7"/>
<rect x="1083.2" y="897.85" width="58.77" height="27.15" fill="#ffc3b7"/>
<rect x="1140.97" y="897.85" width="58.77" height="27.15" fill="#ded3fb"/>
<rect x="1198.73" y="897.85" width="58.77" height="27.15" fill="#f9f7fe"/>
<rect x="1256.5" y="897.85" width="58.77" height="27.15" fill="#a691f4"/>
<rect x="1314.27" y="897.85" width="58.77" height="27.15" fill="#ffdad1"/>
<rect x="1372.03" y="897.85" width="57.77" height="27.15" fill="#dacdfb"/>
<rect x="1438.1" y="762.1" width="43.8" height="162.9" fill="#FF61C3"/>
<text class="st" x="1460" y="167.58">*</text>
<text class="st" x="1460" y="194.72">*</text>
<text class="st" x="1460" y="276.13">*</text>
<text class="st" x="1460" y="329.18">*</text>
<text class="rl" x="1490.2" y="86.17">PE(16:0_18:2)</text>
<text class="rl" x="1490.2" y="113.31">PE(16:0_20:4)</text>
<text class="rl" x="1490.2" y="140.44">PE(16:0_22:6)</text>
<text class="rl" x="1490.2" y="167.58">PE(18:0_18:1)</text>
<text class="rl" x="1490.2" y="194.72">PE(18:0_18:2)</text>
<text class="rl" x="1490.2" y="221.86">PE(18:0_20:4)</text>
<text class="rl" x="1490.2" y="248.99">PE(18:0_22:6)</text>
<text class="rl" x="1490.2" y="276.13">PE(18:1_18:2)</text>
<text class="rl" x="1490.2" y="329.18">PC(16:0_16:1)</text>
<text class="rl" x="1490.2" y="356.33">PC(16:0_18:1)</text>
<text class="rl" x="1490.2" y="383.48">PC(16:0_18:2)</text>
<text class="rl" x="1490.2" y="410.64">PC(16:0_20:3)</text>
<text class="rl" x="1490.2" y="437.79">PC(16:0_20:4)</text>
<text class="rl" x="1490.2" y="464.95">PC(18:0_18:1)</text>
<text class="rl" x="1490.2" y="492.1">PC(18:0_18:2)</text>
<text class="rl" x="1490.2" y="519.25">PC(18:0_20:4)</text>
<text class="rl" x="1490.2" y="546.41">PC(18:0_22:6)</text>
<text class="rl" x="1490.2" y="573.56">PC(18:1_18:2)</text>
<text class="rl" x="1490.2" y="600.72">PC(18:1_22:6)</text>
<text class="rl" x="1490.2" y="627.87">PC(18:2_18:2)</text>
<text class="rl" x="1490.2" y="655.02">PC(18:2_20:4)</text>
<text class="rl" x="1490.2" y="708.12">PI(18:0_18:2)</text>
<text class="rl" x="1490.2" y="735.17">PI(18:0_20:4)</text>
<text class="rl" x="1490.2" y="788.47">SM(14:0)</text>
<text class="rl" x="1490.2" y="815.62">SM(18:1)</text>
<text class="rl" x="1490.2" y="842.77">SM(20:0)</text>
<text class="rl" x="1490.2" y="869.92">SM(20:1)</text>
<text class="rl" x="1490.2" y="897.08">SM(22:1)</text>
<text class="rl" x="1490.2" y="924.22">SM(24:1)</text>
<text class="cl" transform="translate(1115 929) rotate(-90)">Resolving &lt;6h (n=79)</text>
<text class="cl" transform="translate(1183 929) rotate(-90)">Non-resolving &lt;6h (n=30)</text>
<text class="cl" transform="translate(1233.9 929) rotate(-90)">Resolving 24h (n=78)</text>
<text class="cl" transform="translate(1298.3 929) rotate(-90)">Non-resolving 24h (n=30)</text>
<text class="cl" transform="translate(1356.1 929) rotate(-90)">Resolving D2-D5 (n=65)</text>
<text class="cl" transform="translate(1414 929) rotate(-90)">Non-resolving D2-D5 (n=24)</text>
<text class="cl" transform="translate(1473 929.6) rotate(-90)">Class</text>
<text class="tt" transform="translate(1048.3 507.05) rotate(-90)">Trauma TD-2 Metabolomics</text>
<text class="lt" x="967" y="35">b</text>
<text class="zt" x="1504.2" y="969.4">Z-score</text>
<rect x="1503.4" y="984" width="41" height="196" fill="url(#grad)"/>
<rect x="1503.4" y="988" width="10" height="2" fill="#fff"/>
<rect x="1534.4" y="988" width="10" height="2" fill="#fff"/>
<text class="ll" x="1552.5" y="1001">1</text>
<rect x="1503.4" y="1034.05" width="10" height="2" fill="#fff"/>
<rect x="1534.4" y="1034.05" width="10" height="2" fill="#fff"/>
<text class="ll" x="1552.5" y="1047.05">0.5</text>
<rect x="1503.4" y="1080.1" width="10" height="2" fill="#fff"/>
<rect x="1534.4" y="1080.1" width="10" height="2" fill="#fff"/>
<text class="ll" x="1552.5" y="1093.1">0</text>
<rect x="1503.4" y="1126.15" width="10" height="2" fill="#fff"/>
<rect x="1534.4" y="1126.15" width="10" height="2" fill="#fff"/>
<text class="ll" x="1552.5" y="1139.15">-0.5</text>
<rect x="1503.4" y="1172.2" width="10" height="2" fill="#fff"/>
<rect x="1534.4" y="1172.2" width="10" height="2" fill="#fff"/>
<text class="ll" x="1552.5" y="1185.2">-1</text>
<rect x="138" y="1360" width="44.12" height="28.09" fill="#fff9f8"/>
<rect x="181.12" y="1360" width="44.12" height="28.09" fill="#ffdad1"/>
<rect x="224.25" y="1360" width="44.12" height="28.09" fill="#7b68ee"/>
<rect x="267.38" y="1360" width="44.12" height="28.09" fill="#f9f7fe"/>
<rect x="310.5" y="1360" width="44.12" height="28.09" fill="#7b68ee"/>
<rect x="353.62" y="1360" width="44.12" height="28.09" fill="#ffe3dd"/>
<rect x="396.75" y="1360" width="44.12" height="28.09" fill="#f95f4f"/>
<rect x="439.88" y="1360" width="43.12" height="28.09" fill="#ffab9b"/>
<rect x="138" y="1387.09" width="44.12" height="28.09" fill="#e8dffd"/>
<rect x="181.12" y="1387.09" width="44.12" height="28.09" fill="#fcfaff"/>
<rect x="224.25" y="1387.09" width="44.12" height="28.09" fill="#c3b1f8"/>
<rect x="267.38" y="1387.09" width="44.12" height="28.09" fill="#fdfcff"/>
<rect x="310.5" y="1387.09" width="44.12" height="28.09" fill="#f0eafd"/>
<rect x="353.62" y="1387.09" width="44.12" height="28.09" fill="#ffd6cd"/>
<rect x="396.75" y="1387.09" width="44.12" height="28.09" fill="#f3433a"/>
<rect x="439.88" y="1387.09" width="43.12" height="28.09" fill="#f95f4f"/>
<rect x="138" y="1414.17" width="44.12" height="28.09" fill="#ffffff"/>
<rect x="181.12" y="1414.17" width="44.12" height="28.09" fill="#ffece8"/>
<rect x="224.25" y="1414.17" width="44.12" height="28.09" fill="#baa7f7"/>
<rect x="267.38" y="1414.17" width="44.12" height="28.09" fill="#c7b6f8"/>
<rect x="310.5" y="1414.17" width="44.12" height="28.09" fill="#7b68ee"/>
<rect x="353.62" y="1414.17" width="44.12" height="28.09" fill="#ffbaac"/>
<rect x="396.75" y="1414.17" width="44.12" height="28.09" fill="#ee2c2c"/>
<rect x="439.88" y="1414.17" width="43.12" height="28.09" fill="#f65043"/>
<rect x="138" y="1441.26" width="44.12" height="28.09" fill="#ffc3b7"/>
<rect x="181.12" y="1441.26" width="44.12" height="28.09" fill="#ffe3dd"/>
<rect x="224.25" y="1441.26" width="44.12" height="28.09" fill="#8873f0"/>
<rect x="267.38" y="1441.26" width="44.12" height="28.09" fill="#fffbfa"/>
<rect x="310.5" y="1441.26" width="44.12" height="28.09" fill="#7b68ee"/>
<rect x="353.62" y="1441.26" width="44.12" height="28.09" fill="#f7f4fe"/>
<rect x="396.75" y="1441.26" width="44.12" height="28.09" fill="#ffc1b5"/>
<rect x="439.88" y="1441.26" width="43.12" height="28.09" fill="#ffddd6"/>
<rect x="138" y="1468.35" width="44.12" height="28.09" fill="#ffab9b"/>
<rect x="181.12" y="1468.35" width="44.12" height="28.09" fill="#ffffff"/>
<rect x="224.25" y="1468.35" width="44.12" height="28.09" fill="#7b68ee"/>
<rect x="267.38" y="1468.35" width="44.12" height="28.09" fill="#ffe9e4"/>
<rect x="310.5" y="1468.35" width="44.12" height="28.09" fill="#7b68ee"/>
<rect x="353.62" y="1468.35" width="44.12" height="28.09" fill="#f7f4fe"/>
<rect x="396.75" y="1468.35" width="44.12" height="28.09" fill="#ffbaac"/>
<rect x="439.88" y="1468.35" width="43.12" height="28.09" fill="#ffa594"/>
<rect x="138" y="1495.44" width="44.12" height="28.09" fill="#ffece8"/>
<rect x="181.12" y="1495.44" width="44.12" height="28.09" fill="#f9f7fe"/>
<rect x="224.25" y="1495.44" width="44.12" height="28.09" fill="#b49ff6"/>
<rect x="267.38" y="1495.44" width="44.12" height="28.09" fill="#fcfaff"/>
<rect x="310.5" y="1495.44" width="44.12" height="28.09" fill="#eee7fd"/>
<rect x="353.62" y="1495.44" width="44.12" height="28.09" fill="#fffbfa"/>
<rect x="396.75" y="1495.44" width="44.12" height="28.09" fill="#ffab9b"/>
<rect x="439.88" y="1495.44" width="43.12" height="28.09" fill="#f85d4d"/>
<rect x="138" y="1522.53" width="44.12" height="28.09" fill="#ffddd6"/>
<rect x="181.12" y="1522.53" width="44.12" height="28.09" fill="#fff0ed"/>
<rect x="224.25" y="1522.53" width="44.12" height="28.09" fill="#bdaaf7"/>
<rect x="267.38" y="1522.53" width="44.12" height="28.09" fill="#cab9f9"/>
<rect x="310.5" y="1522.53" width="44.12" height="28.09" fill="#9a85f2"/>
<rect x="353.62" y="1522.53" width="44.12" height="28.09" fill="#ffc1b5"/>
<rect x="396.75" y="1522.53" width="44.12" height="28.09" fill="#ffab9b"/>
<rect x="439.88" y="1522.53" width="43.12" height="28.09" fill="#f9f7fe"/>
<rect x="138" y="1549.61" width="44.12" height="27.09" fill="#fdfcff"/>
<rect x="181.12" y="1549.61" width="44.12" height="27.09" fill="#ffe9e4"/>
<rect x="224.25" y="1549.61" width="44.12" height="27.09" fill="#8e79f1"/>
<rect x="267.38" y="1549.61" width="44.12" height="27.09" fill="#ff9786"/>
<rect x="310.5" y="1549.61" width="44.12" height="27.09" fill="#9d88f3"/>
<rect x="353.62" y="1549.61" width="44.12" height="27.09" fill="#fdfcff"/>
<rect x="396.75" y="1549.61" width="44.12" height="27.09" fill="#ffc1b5"/>
<rect x="439.88" y="1549.61" width="43.12" height="27.09" fill="#ffc1b5"/>
<rect x="492" y="1360" width="43" height="216.7" fill="#00BA38"/>
<rect x="138" y="1602.2" width="44.12" height="28.09" fill="#ffece8"/>
<rect x="181.12" y="1602.2" width="44.12" height="28.09" fill="#ffbeb0"/>
<rect x="224.25" y="1602.2" width="44.12" height="28.09" fill="#9680f2"/>
<rect x="267.38" y="1602.2" width="44.12" height="28.09" fill="#dcd0fb"/>
<rect x="310.5" y="1602.2" width="44.12" height="28.09" fill="#dcd0fb"/>
<rect x="353.62" y="1602.2" width="44.12" height="28.09" fill="#eee7fd"/>
<rect x="396.75" y="1602.2" width="44.12" height="28.09" fill="#ffae9f"/>
<rect x="439.88" y="1602.2" width="43.12" height="28.09" fill="#f4effe"/>
<rect x="138" y="1629.29" width="44.12" height="28.09" fill="#f4effe"/>
<rect x="181.12" y="1629.29" width="44.12" height="28.09" fill="#ff8d7b"/>
<rect x="224.25" y="1629.29" width="44.12" height="28.09" fill="#8e79f1"/>
<rect x="267.38" y="1629.29" width="44.12" height="28.09" fill="#c7b6f8"/>
<rect x="310.5" y="1629.29" width="44.12" height="28.09" fill="#d0c1fa"/>
<rect x="353.62" y="1629.29" width="44.12" height="28.09" fill="#fcfaff"/>
<rect x="396.75" y="1629.29" width="44.12" height="28.09" fill="#ff9d8c"/>
<rect x="439.88" y="1629.29" width="43.12" height="28.09" fill="#fffdfd"/>
<rect x="138" y="1656.38" width="44.12" height="28.09" fill="#ffab9b"/>
<rect x="181.12" y="1656.38" width="44.12" height="28.09" fill="#f7f4fe"/>
<rect x="224.25" y="1656.38" width="44.12" height="28.09" fill="#937ef1"/>
<rect x="267.38" y="1656.38" width="44.12" height="28.09" fill="#fcfaff"/>
<rect x="310.5" y="1656.38" width="44.12" height="28.09" fill="#7b68ee"/>
<rect x="353.62" y="1656.38" width="44.12" height="28.09" fill="#ffe3dd"/>
<rect x="396.75" y="1656.38" width="44.12" height="28.09" fill="#ffbaac"/>
<rect x="439.88" y="1656.38" width="43.12" height="28.09" fill="#fff9f8"/>
<rect x="138" y="1683.48" width="44.12" height="28.09" fill="#ffd0c6"/>
<rect x="181.12" y="1683.48" width="44.12" height="28.09" fill="#f7f4fe"/>
<rect x="224.25" y="1683.48" width="44.12" height="28.09" fill="#d0c1fa"/>
<rect x="267.38" y="1683.48" width="44.12" height="28.09" fill="#fff6f3"/>
<rect x="310.5" y="1683.48" width="44.12" height="28.09" fill="#fff4f1"/>
<rect x="353.62" y="1683.48" width="44.12" height="28.09" fill="#ffece8"/>
<rect x="396.75" y="1683.48" width="44.12" height="28.09" fill="#d0c1fa"/>
<rect x="439.88" y="1683.48" width="43.12" height="28.09" fill="#ffece8"/>
<rect x="138" y="1710.57" width="44.12" height="28.09" fill="#ffd6cd"/>
<rect x="181.12" y="1710.57" width="44.12" height="28.09" fill="#dcd0fb"/>
<rect x="224.25" y="1710.57" width="44.12" height="28.09" fill="#fff0ed"/>
<rect x="267.38" y="1710.57" width="44.12" height="28.09" fill="#ffece8"/>
<rect x="310.5" y="1710.57" width="44.12" height="28.09" fill="#ffcdc2"/>
<rect x="353.62" y="1710.57" width="44.12" height="28.09" fill="#f4effe"/>
<rect x="396.75" y="1710.57" width="44.12" height="28.09" fill="#e8dffd"/>
<rect x="439.88" y="1710.57" width="43.12" height="28.09" fill="#ffdad1"/>
<rect x="138" y="1737.66" width="44.12" height="28.09" fill="#ffcdc2"/>
<rect x="181.12" y="1737.66" width="44.12" height="28.09" fill="#ff9786"/>
<rect x="224.25" y="1737.66" width="44.12" height="28.09" fill="#7e6bee"/>
<rect x="267.38" y="1737.66" width="44.12" height="28.09" fill="#e6dcfc"/>
<rect x="310.5" y="1737.66" width="44.12" height="28.09" fill="#a994f4"/>
<rect x="353.62" y="1737.66" width="44.12" height="28.09" fill="#bdaaf7"/>
<rect x="396.75" y="1737.66" width="44.12" height="28.09" fill="#eee7fd"/>
<rect x="439.88" y="1737.66" width="43.12" height="28.09" fill="#ffdfd8"/>
<rect x="138" y="1764.75" width="44.12" height="28.09" fill="#fa6353"/>
<rect x="181.12" y="1764.75" width="44.12" height="28.09" fill="#f7f4fe"/>
<rect x="224.25" y="1764.75" width="44.12" height="28.09" fill="#8e79f1"/>
<rect x="267.38" y="1764.75" width="44.12" height="28.09" fill="#ffece8"/>
<rect x="310.5" y="1764.75" width="44.12" height="28.09" fill="#7b68ee"/>
<rect x="353.62" y="1764.75" width="44.12" height="28.09" fill="#dcd0fb"/>
<rect x="396.75" y="1764.75" width="44.12" height="28.09" fill="#c7b6f8"/>
<rect x="439.88" y="1764.75" width="43.12" height="28.09" fill="#ffe3dd"/>
<rect x="138" y="1791.85" width="44.12" height="28.09" fill="#ffbaac"/>
<rect x="181.12" y="1791.85" width="44.12" height="28.09" fill="#f0eafd"/>
<rect x="224.25" y="1791.85" width="44.12" height="28.09" fill="#ffece8"/>
<rect x="267.38" y="1791.85" width="44.12" height="28.09" fill="#ffece8"/>
<rect x="310.5" y="1791.85" width="44.12" height="28.09" fill="#ffe3dd"/>
<rect x="353.62" y="1791.85" width="44.12" height="28.09" fill="#d6c8fa"/>
<rect x="396.75" y="1791.85" width="44.12" height="28.09" fill="#a28cf3"/>
<rect x="439.88" y="1791.85" width="43.12" height="28.09" fill="#fff2ef"/>
<rect x="138" y="1818.94" width="44.12" height="28.09" fill="#ffab9b"/>
<rect x="181.12" y="1818.94" width="44.12" height="28.09" fill="#f4effe"/>
<rect x="224.25" y="1818.94" width="44.12" height="28.09" fill="#ded3fb"/>
<rect x="267.38" y="1818.94" width="44.12" height="28.09" fill="#f4effe"/>
<rect x="310.5" y="1818.94" width="44.12" height="28.09" fill="#7b68ee"/>
<rect x="353.62" y="1818.94" width="44.12" height="28.09" fill="#fffdfd"/>
<rect x="396.75" y="1818.94" width="44.12" height="28.09" fill="#f4effe"/>
<rect x="439.88" y="1818.94" width="43.12" height="28.09" fill="#ffc7bb"/>
<rect x="138" y="1846.03" width="44.12" height="28.09" fill="#fa6353"/>
<rect x="181.12" y="1846.03" width="44.12" height="28.09" fill="#ffe9e4"/>
<rect x="224.25" y="1846.03" width="44.12" height="28.09" fill="#9d88f3"/>
<rect x="267.38" y="1846.03" width="44.12" height="28.09" fill="#ffd6cd"/>
<rect x="310.5" y="1846.03" width="44.12" height="28.09" fill="#826eef"/>
<rect x="353.62" y="1846.03" width="44.12" height="28.09" fill="#9a85f2"/>
<rect x="396.75" y="1846.03" width="44.12" height="28.09" fill="#9a85f2"/>
<rect x="439.88" y="1846.03" width="43.12" height="28.09" fill="#e8dffd"/>
<rect x="138" y="1873.12" width="44.12" height="28.09" fill="#ff7d6b"/>
<rect x="181.12" y="1873.12" width="44.12" height="28.09" fill="#fffbfa"/>
<rect x="224.25" y="1873.12" width="44.12" height="28.09" fill="#b09bf5"/>
<rect x="267.38" y="1873.12" width="44.12" height="28.09" fill="#ffe9e4"/>
<rect x="310.5" y="1873.12" width="44.12" height="28.09" fill="#7b68ee"/>
<rect x="353.62" y="1873.12" width="44.12" height="28.09" fill="#c7b6f8"/>
<rect x="396.75" y="1873.12" width="44.12" height="28.09" fill="#c7b6f8"/>
<rect x="439.88" y="1873.12" width="43.12" height="28.09" fill="#ffdfd8"/>
<rect x="138" y="1900.22" width="44.12" height="28.09" fill="#ee2c2c"/>
<rect x="181.12" y="1900.22" width="44.12" height="28.09" fill="#e8dffd"/>
<rect x="224.25" y="1900.22" width="44.12" height="28.09" fill="#a691f4"/>
<rect x="267.38" y="1900.22" width="44.12" height="28.09" fill="#ffc7bb"/>
<rect x="310.5" y="1900.22" width="44.12" height="28.09" fill="#b09bf5"/>
<rect x="353.62" y="1900.22" width="44.12" height="28.09" fill="#ab96f5"/>
<rect x="396.75" y="1900.22" width="44.12" height="28.09" fill="#a58ff4"/>
<rect x="439.88" y="1900.22" width="43.12" height="28.09" fill="#e2d8fc"/>
<rect x="138" y="1927.31" width="44.12" height="27.09" fill="#f44b3f"/>
<rect x="181.12" y="1927.31" width="44.12" height="27.09" fill="#dacdfb"/>
<rect x="224.25" y="1927.31" width="44.12" height="27.09" fill="#cdbef9"/>
<rect x="267.38" y="1927.31" width="44.12" height="27.09" fill="#ffdad1"/>
<rect x="310.5" y="1927.31" width="44.12" height="27.09" fill="#eee7fd"/>
<rect x="353.62" y="1927.31" width="44.12" height="27.09" fill="#b49ff6"/>
<rect x="396.75" y="1927.31" width="44.12" height="27.09" fill="#9a85f2"/>
<rect x="439.88" y="1927.31" width="43.12" height="27.09" fill="#e2d8fc"/>
<rect x="492" y="1602.2" width="43" height="352.2" fill="#93AA00"/>
<rect x="138" y="1980" width="44.12" height="28.2" fill="#ffae9f"/>
<rect x="181.12" y="1980" width="44.12" height="28.2" fill="#d0c1fa"/>
<rect x="224.25" y="1980" width="44.12" height="28.2" fill="#ad98f5"/>
<rect x="267.38" y="1980" width="44.12" height="28.2" fill="#ffe3dd"/>
<rect x="310.5" y="1980" width="44.12" height="28.2" fill="#c6b4f8"/>
<rect x="353.62" y="1980" width="44.12" height="28.2" fill="#ffc7bb"/>
<rect x="396.75" y="1980" width="44.12" height="28.2" fill="#fffdfd"/>
<rect x="439.88" y="1980" width="43.12" height="28.2" fill="#fa6353"/>
<rect x="138" y="2007.2" width="44.12" height="27.2" fill="#f44b3f"/>
<rect x="181.12" y="2007.2" width="44.12" height="27.2" fill="#fdfcff"/>
<rect x="224.25" y="2007.2" width="44.12" height="27.2" fill="#c7b6f8"/>
<rect x="267.38" y="2007.2" width="44.12" height="27.2" fill="#fffdfd"/>
<rect x="310.5" y="2007.2" width="44.12" height="27.2" fill="#e8dffd"/>
<rect x="353.62" y="2007.2" width="44.12" height="27.2" fill="#8571ef"/>
<rect x="396.75" y="2007.2" width="44.12" height="27.2" fill="#7e6bee"/>
<rect x="439.88" y="2007.2" width="43.12" height="27.2" fill="#e8dffd"/>
<rect x="492" y="1980" width="43" height="54.4" fill="#00C19F"/>
<rect x="138" y="2060" width="44.12" height="28.08" fill="#ffc3b7"/>
<rect x="181.12" y="2060" width="44.12" height="28.08" fill="#f1ecfe"/>
<rect x="224.25" y="2060" width="44.12" height="28.08" fill="#ffe3dd"/>
<rect x="267.38" y="2060" width="44.12" height="28.08" fill="#d0c1fa"/>
<rect x="310.5" y="2060" width="44.12" height="28.08" fill="#c3b1f8"/>
<rect x="353.62" y="2060" width="44.12" height="28.08" fill="#ffe3dd"/>
<rect x="396.75" y="2060" width="44.12" height="28.08" fill="#fdfcff"/>
<rect x="439.88" y="2060" width="43.12" height="28.08" fill="#fff2ef"/>
<rect x="138" y="2087.08" width="44.12" height="28.08" fill="#c3b1f8"/>
<rect x="181.12" y="2087.08" width="44.12" height="28.08" fill="#fefdff"/>
<rect x="224.25" y="2087.08" width="44.12" height="28.08" fill="#ffbaac"/>
<rect x="267.38" y="2087.08" width="44.12" height="28.08" fill="#ffddd6"/>
<rect x="310.5" y="2087.08" width="44.12" height="28.08" fill="#ffece8"/>
<rect x="353.62" y="2087.08" width="44.12" height="28.08" fill="#ffd6cd"/>
<rect x="396.75" y="2087.08" width="44.12" height="28.08" fill="#ff9786"/>
<rect x="439.88" y="2087.08" width="43.12" height="28.08" fill="#ffdfd8"/>
<rect x="138" y="2114.17" width="44.12" height="28.08" fill="#ffdad1"/>
<rect x="181.12" y="2114.17" width="44.12" height="28.08" fill="#fdfcff"/>
<rect x="224.25" y="2114.17" width="44.12" height="28.08" fill="#fff2ef"/>
<rect x="267.38" y="2114.17" width="44.12" height="28.08" fill="#e8dffd"/>
<rect x="310.5" y="2114.17" width="44.12" height="28.08" fill="#c6b4f8"/>
<rect x="353.62" y="2114.17" width="44.12" height="28.08" fill="#f9f7fe"/>
<rect x="396.75" y="2114.17" width="44.12" height="28.08" fill="#fcfaff"/>
<rect x="439.88" y="2114.17" width="43.12" height="28.08" fill="#fffbfa"/>
<rect x="138" y="2141.25" width="44.12" height="28.08" fill="#fff6f3"/>
<rect x="181.12" y="2141.25" width="44.12" height="28.08" fill="#f9f7fe"/>
<rect x="224.25" y="2141.25" width="44.12" height="28.08" fill="#ffbaac"/>
<rect x="267.38" y="2141.25" width="44.12" height="28.08" fill="#fff9f8"/>
<rect x="310.5" y="2141.25" width="44.12" height="28.08" fill="#dcd0fb"/>
<rect x="353.62" y="2141.25" width="44.12" height="28.08" fill="#f6f2fe"/>
<rect x="396.75" y="2141.25" width="44.12" height="28.08" fill="#f7f4fe"/>
<rect x="439.88" y="2141.25" width="43.12" height="28.08" fill="#eee7fd"/>
<rect x="138" y="2168.33" width="44.12" height="28.08" fill="#ffc1b5"/>
<rect x="181.12" y="2168.33" width="44.12" height="28.08" fill="#f9f7fe"/>
<rect x="224.25" y="2168.33" width="44.12" height="28.08" fill="#ffe9e4"/>
<rect x="267.38" y="2168.33" width="44.12" height="28.08" fill="#d8cbfb"/>
<rect x="310.5" y="2168.33" width="44.12" height="28.08" fill="#9d88f3"/>
<rect x="353.62" y="2168.33" width="44.12" height="28.08" fill="#fdfcff"/>
<rect x="396.75" y="2168.33" width="44.12" height="28.08" fill="#f1ecfe"/>
<rect x="439.88" y="2168.33" width="43.12" height="28.08" fill="#ffffff"/>
<rect x="138" y="2195.42" width="44.12" height="27.08" fill="#f0eafd"/>
<rect x="181.12" y="2195.42" width="44.12" height="27.08" fill="#ffc7bb"/>
<rect x="224.25" y="2195.42" width="44.12" height="27.08" fill="#fff9f8"/>
<rect x="267.38" y="2195.42" width="44.12" height="27.08" fill="#c6b4f8"/>
<rect x="310.5" y="2195.42" width="44.12" height="27.08" fill="#9d88f3"/>
<rect x="353.62" y="2195.42" width="44.12" height="27.08" fill="#fff0ed"/>
<rect x="396.75" y="2195.42" width="44.12" height="27.08" fill="#ffa190"/>
<rect x="439.88" y="2195.42" width="43.12" height="27.08" fill="#fffdfd"/>
<rect x="492" y="2060" width="43" height="162.5" fill="#FF61C3"/>
<text class="st" x="513" y="1387.44">*</text>
<text class="st" x="513" y="1414.53">*</text>
<text class="st" x="513" y="1441.62">*</text>
<text class="st" x="513" y="1468.71">*</text>
<text class="st" x="513" y="1522.88">*</text>
<text class="st" x="513" y="1549.97">*</text>
<text class="st" x="513" y="1629.65">*</text>
<text class="st" x="513" y="1656.74">*</text>
<text class="rl" x="543.4" y="1386.34">PE(16:0_18:2)</text>
<text class="rl" x="543.4" y="1413.43">PE(16:0_20:4)</text>
<text class="rl" x="543.4" y="1440.52">PE(16:0_22:6)</text>
<text class="rl" x="543.4" y="1467.61">PE(18:0_18:1)</text>
<text class="rl" x="543.4" y="1494.69">PE(18:0_18:2)</text>
<text class="rl" x="543.4" y="1521.78">PE(18:0_20:4)</text>
<text class="rl" x="543.4" y="1548.87">PE(18:0_22:6)</text>
<text class="rl" x="543.4" y="1575.96">PE(18:1_18:2)</text>
<text class="rl" x="543.4" y="1628.55">PC(16:0_16:1)</text>
<text class="rl" x="543.4" y="1655.64">PC(16:0_18:1)</text>
<text class="rl" x="543.4" y="1682.73">PC(16:0_18:2)</text>
<text class="rl" x="543.4" y="1709.82">PC(16:0_20:3)</text>
<text class="rl" x="543.4" y="1736.92">PC(16:0_20:4)</text>
<text class="rl" x="543.4" y="1764.01">PC(18:0_18:1)</text>
<text class="rl" x="543.4" y="1791.1">PC(18:0_18:2)</text>
<text class="rl" x="543.4" y="1818.19">PC(18:0_20:4)</text>
<text class="rl" x="543.4" y="1845.28">PC(18:0_22:6)</text>
<text class="rl" x="543.4" y="1872.38">PC(18:1_18:2)</text>
<text class="rl" x="543.4" y="1899.47">PC(18:1_22:6)</text>
<text class="rl" x="543.4" y="1926.56">PC(18:2_18:2)</text>
<text class="rl" x="543.4" y="1953.65">PC(18:2_20:4)</text>
<text class="rl" x="543.4" y="2006.4">PI(18:0_18:2)</text>
<text class="rl" x="543.4" y="2033.6">PI(18:0_20:4)</text>
<text class="rl" x="543.4" y="2086.34">SM(14:0)</text>
<text class="rl" x="543.4" y="2113.43">SM(18:1)</text>
<text class="rl" x="543.4" y="2140.51">SM(20:0)</text>
<text class="rl" x="543.4" y="2167.59">SM(20:1)</text>
<text class="rl" x="543.4" y="2194.68">SM(22:1)</text>
<text class="rl" x="543.4" y="2221.76">SM(24:1)</text>
<text class="cl" transform="translate(172.8 2227.4) rotate(-90)">Healthy Control (n=25)</text>
<text class="cl" transform="translate(216 2227.4) rotate(-90)">Non-covid (n=25)</text>
<text class="cl" transform="translate(259 2227.4) rotate(-90)">Non-severe &lt;48h (n=9)</text>
<text class="cl" transform="translate(302 2227.4) rotate(-90)">Non-severe D2-D5 (n=11)</text>
<text class="cl" transform="translate(345 2227.4) rotate(-90)">Non-severe D6-D14 (n=5)</text>
<text class="cl" transform="translate(388.2 2227.4) rotate(-90)">Severe before (n=10)</text>
<text class="cl" transform="translate(431.2 2227.4) rotate(-90)">Severe &lt;48h (n=7)</text>
<text class="cl" transform="translate(474.6 2227.4) rotate(-90)">Severe D6-D14 (n=3)</text>
<text class="cl" transform="translate(526.8 2226.9) rotate(-90)">Class</text>
<text class="tt" transform="translate(97.4 1811.1) rotate(-90)">Covid-19 (Guo et al, Cell, 2020) Metabolimics</text>
<text class="lt" x="-1.2" y="1343.7">c</text>
<text class="zt" x="553.7" y="2267.8">Z-score</text>
<rect x="552.9" y="2282.2" width="41" height="196" fill="url(#grad)"/>
<rect x="552.9" y="2286.2" width="10" height="2" fill="#fff"/>
<rect x="583.9" y="2286.2" width="10" height="2" fill="#fff"/>
<text class="ll" x="602" y="2299.2">1</text>
<rect x="552.9" y="2332.25" width="10" height="2" fill="#fff"/>
<rect x="583.9" y="2332.25" width="10" height="2" fill="#fff"/>
<text class="ll" x="602" y="2345.25">0.5</text>
<rect x="552.9" y="2378.3" width="10" height="2" fill="#fff"/>
<rect x="583.9" y="2378.3" width="10" height="2" fill="#fff"/>
<text class="ll" x="602" y="2391.3">0</text>
<rect x="552.9" y="2424.35" width="10" height="2" fill="#fff"/>
<rect x="583.9" y="2424.35" width="10" height="2" fill="#fff"/>
<text class="ll" x="602" y="2437.35">-0.5</text>
<rect x="552.9" y="2470.4" width="10" height="2" fill="#fff"/>
<rect x="583.9" y="2470.4" width="10" height="2" fill="#fff"/>
<text class="ll" x="602" y="2483.4">-1</text>
<rect x="1083" y="1360" width="87.75" height="28.21" fill="#bdaaf7"/>
<rect x="1169.75" y="1360" width="87.75" height="28.21" fill="#fff0ed"/>
<rect x="1256.5" y="1360" width="87.75" height="28.21" fill="#ffb4a6"/>
<rect x="1343.25" y="1360" width="86.75" height="28.21" fill="#ffb4a6"/>
<rect x="1083" y="1387.21" width="87.75" height="28.21" fill="#ae99f5"/>
<rect x="1169.75" y="1387.21" width="87.75" height="28.21" fill="#ffdad1"/>
<rect x="1256.5" y="1387.21" width="87.75" height="28.21" fill="#ffc1b5"/>
<rect x="1343.25" y="1387.21" width="86.75" height="28.21" fill="#ff917f"/>
<rect x="1083" y="1414.42" width="87.75" height="28.21" fill="#9a85f2"/>
<rect x="1169.75" y="1414.42" width="87.75" height="28.21" fill="#ffe3dd"/>
<rect x="1256.5" y="1414.42" width="87.75" height="28.21" fill="#ffa797"/>
<rect x="1343.25" y="1414.42" width="86.75" height="28.21" fill="#ff7967"/>
<rect x="1083" y="1441.64" width="87.75" height="28.21" fill="#e8dffd"/>
<rect x="1169.75" y="1441.64" width="87.75" height="28.21" fill="#f0eafd"/>
<rect x="1256.5" y="1441.64" width="87.75" height="28.21" fill="#ffddd6"/>
<rect x="1343.25" y="1441.64" width="86.75" height="28.21" fill="#ffc1b5"/>
<rect x="1083" y="1468.85" width="87.75" height="28.21" fill="#dcd0fb"/>
<rect x="1169.75" y="1468.85" width="87.75" height="28.21" fill="#f9f7fe"/>
<rect x="1256.5" y="1468.85" width="87.75" height="28.21" fill="#ffbaac"/>
<rect x="1343.25" y="1468.85" width="86.75" height="28.21" fill="#ffe9e4"/>
<rect x="1083" y="1496.06" width="87.75" height="28.21" fill="#d8cbfb"/>
<rect x="1169.75" y="1496.06" width="87.75" height="28.21" fill="#fff2ef"/>
<rect x="1256.5" y="1496.06" width="87.75" height="28.21" fill="#ffe3dd"/>
<rect x="1343.25" y="1496.06" width="86.75" height="28.21" fill="#ffcdc2"/>
<rect x="1083" y="1523.28" width="87.75" height="28.21" fill="#a994f4"/>
<rect x="1169.75" y="1523.28" width="87.75" height="28.21" fill="#fffdfd"/>
<rect x="1256.5" y="1523.28" width="87.75" height="28.21" fill="#ffa797"/>
<rect x="1343.25" y="1523.28" width="86.75" height="28.21" fill="#ff7d6b"/>
<rect x="1083" y="1550.49" width="87.75" height="27.21" fill="#f9f7fe"/>
<rect x="1169.75" y="1550.49" width="87.75" height="27.21" fill="#f7f4fe"/>
<rect x="1256.5" y="1550.49" width="87.75" height="27.21" fill="#ffdfd8"/>
<rect x="1343.25" y="1550.49" width="86.75" height="27.21" fill="#f7f4fe"/>
<rect x="1439" y="1360" width="43.1" height="217.7" fill="#00BA38"/>
<rect x="1083" y="1603.5" width="87.75" height="28.18" fill="#ebe4fd"/>
<rect x="1169.75" y="1603.5" width="87.75" height="28.18" fill="#fff2ef"/>
<rect x="1256.5" y="1603.5" width="87.75" height="28.18" fill="#fff6f3"/>
<rect x="1343.25" y="1603.5" width="86.75" height="28.18" fill="#ffe7e1"/>
<rect x="1083" y="1630.68" width="87.75" height="28.18" fill="#e4dbfc"/>
<rect x="1169.75" y="1630.68" width="87.75" height="28.18" fill="#fff4f1"/>
<rect x="1256.5" y="1630.68" width="87.75" height="28.18" fill="#ffe9e4"/>
<rect x="1343.25" y="1630.68" width="86.75" height="28.18" fill="#ffddd6"/>
<rect x="1083" y="1657.87" width="87.75" height="28.18" fill="#f0eafd"/>
<rect x="1169.75" y="1657.87" width="87.75" height="28.18" fill="#ffe3dd"/>
<rect x="1256.5" y="1657.87" width="87.75" height="28.18" fill="#ffece8"/>
<rect x="1343.25" y="1657.87" width="86.75" height="28.18" fill="#f4effe"/>
<rect x="1083" y="1685.05" width="87.75" height="28.18" fill="#f0eafd"/>
<rect x="1169.75" y="1685.05" width="87.75" height="28.18" fill="#ffeae6"/>
<rect x="1256.5" y="1685.05" width="87.75" height="28.18" fill="#ffe3dd"/>
<rect x="1343.25" y="1685.05" width="86.75" height="28.18" fill="#f7f4fe"/>
<rect x="1083" y="1712.24" width="87.75" height="28.18" fill="#e4dbfc"/>
<rect x="1169.75" y="1712.24" width="87.75" height="28.18" fill="#ffd0c6"/>
<rect x="1256.5" y="1712.24" width="87.75" height="28.18" fill="#ffffff"/>
<rect x="1343.25" y="1712.24" width="86.75" height="28.18" fill="#ffe9e4"/>
<rect x="1083" y="1739.42" width="87.75" height="28.18" fill="#fff9f8"/>
<rect x="1169.75" y="1739.42" width="87.75" height="28.18" fill="#e4dbfc"/>
<rect x="1256.5" y="1739.42" width="87.75" height="28.18" fill="#ffc7bb"/>
<rect x="1343.25" y="1739.42" width="86.75" height="28.18" fill="#e8dffd"/>
<rect x="1083" y="1766.61" width="87.75" height="28.18" fill="#fff0ed"/>
<rect x="1169.75" y="1766.61" width="87.75" height="28.18" fill="#efe9fd"/>
<rect x="1256.5" y="1766.61" width="87.75" height="28.18" fill="#ffd0c6"/>
<rect x="1343.25" y="1766.61" width="86.75" height="28.18" fill="#d8cbfb"/>
<rect x="1083" y="1793.79" width="87.75" height="28.18" fill="#f9f7fe"/>
<rect x="1169.75" y="1793.79" width="87.75" height="28.18" fill="#fffbfa"/>
<rect x="1256.5" y="1793.79" width="87.75" height="28.18" fill="#ffddd6"/>
<rect x="1343.25" y="1793.79" width="86.75" height="28.18" fill="#eae3fd"/>
<rect x="1083" y="1820.98" width="87.75" height="28.18" fill="#d3c5fa"/>
<rect x="1169.75" y="1820.98" width="87.75" height="28.18" fill="#ffddd6"/>
<rect x="1256.5" y="1820.98" width="87.75" height="28.18" fill="#fff4f1"/>
<rect x="1343.25" y="1820.98" width="86.75" height="28.18" fill="#ffc1b5"/>
<rect x="1083" y="1848.16" width="87.75" height="28.18" fill="#ffbaac"/>
<rect x="1169.75" y="1848.16" width="87.75" height="28.18" fill="#fffbfa"/>
<rect x="1256.5" y="1848.16" width="87.75" height="28.18" fill="#f0eafd"/>
<rect x="1343.25" y="1848.16" width="86.75" height="28.18" fill="#bdaaf7"/>
<rect x="1083" y="1875.35" width="87.75" height="28.18" fill="#ffae9f"/>
<rect x="1169.75" y="1875.35" width="87.75" height="28.18" fill="#eae3fd"/>
<rect x="1256.5" y="1875.35" width="87.75" height="28.18" fill="#eae3fd"/>
<rect x="1343.25" y="1875.35" width="86.75" height="28.18" fill="#d6c8fa"/>
<rect x="1083" y="1902.53" width="87.75" height="28.18" fill="#ff8d7b"/>
<rect x="1169.75" y="1902.53" width="87.75" height="28.18" fill="#fffbfa"/>
<rect x="1256.5" y="1902.53" width="87.75" height="28.18" fill="#dcd0fb"/>
<rect x="1343.25" y="1902.53" width="86.75" height="28.18" fill="#9a85f2"/>
<rect x="1083" y="1929.72" width="87.75" height="27.18" fill="#ff8d7b"/>
<rect x="1169.75" y="1929.72" width="87.75" height="27.18" fill="#fff4f1"/>
<rect x="1256.5" y="1929.72" width="87.75" height="27.18" fill="#d0c1fa"/>
<rect x="1343.25" y="1929.72" width="86.75" height="27.18" fill="#a38ef4"/>
<rect x="1439" y="1603.5" width="43.1" height="353.4" fill="#93AA00"/>
<rect x="1083" y="1983.1" width="87.75" height="28.25" fill="#b6a2f6"/>
<rect x="1169.75" y="1983.1" width="87.75" height="28.25" fill="#ebe4fd"/>
<rect x="1256.5" y="1983.1" width="87.75" height="28.25" fill="#fd7361"/>
<rect x="1343.25" y="1983.1" width="86.75" height="28.25" fill="#ffbeb0"/>
<rect x="1083" y="2010.35" width="87.75" height="27.25" fill="#ffab9b"/>
<rect x="1169.75" y="2010.35" width="87.75" height="27.25" fill="#f9f7fe"/>
<rect x="1256.5" y="2010.35" width="87.75" height="27.25" fill="#dcd0fb"/>
<rect x="1343.25" y="2010.35" width="86.75" height="27.25" fill="#c7b6f8"/>
<rect x="1439" y="1983.1" width="43.1" height="54.5" fill="#00C19F"/>
<rect x="1083" y="2063.1" width="87.75" height="28.23" fill="#eee7fd"/>
<rect x="1169.75" y="2063.1" width="87.75" height="28.23" fill="#f1ecfe"/>
<rect x="1256.5" y="2063.1" width="87.75" height="28.23" fill="#ffece8"/>
<rect x="1343.25" y="2063.1" width="86.75" height="28.23" fill="#ffbeb0"/>
<rect x="1083" y="2090.33" width="87.75" height="28.23" fill="#9a85f2"/>
<rect x="1169.75" y="2090.33" width="87.75" height="28.23" fill="#ff8d7b"/>
<rect x="1256.5" y="2090.33" width="87.75" height="28.23" fill="#ffd0c6"/>
<rect x="1343.25" y="2090.33" width="86.75" height="28.23" fill="#ffa797"/>
<rect x="1083" y="2117.57" width="87.75" height="28.23" fill="#c3b1f8"/>
<rect x="1169.75" y="2117.57" width="87.75" height="28.23" fill="#ffcbc0"/>
<rect x="1256.5" y="2117.57" width="87.75" height="28.23" fill="#ffdad1"/>
<rect x="1343.25" y="2117.57" width="86.75" height="28.23" fill="#ffdad1"/>
<rect x="1083" y="2144.8" width="87.75" height="28.23" fill="#c3b1f8"/>
<rect x="1169.75" y="2144.8" width="87.75" height="28.23" fill="#ff9382"/>
<rect x="1256.5" y="2144.8" width="87.75" height="28.23" fill="#ffe9e4"/>
<rect x="1343.25" y="2144.8" width="86.75" height="28.23" fill="#f7f4fe"/>
<rect x="1083" y="2172.03" width="87.75" height="28.23" fill="#eee7fd"/>
<rect x="1169.75" y="2172.03" width="87.75" height="28.23" fill="#ffbaac"/>
<rect x="1256.5" y="2172.03" width="87.75" height="28.23" fill="#f9f7fe"/>
<rect x="1343.25" y="2172.03" width="86.75" height="28.23" fill="#f4effe"/>
<rect x="1083" y="2199.27" width="87.75" height="27.23" fill="#ab96f5"/>
<rect x="1169.75" y="2199.27" width="87.75" height="27.23" fill="#ffa797"/>
<rect x="1256.5" y="2199.27" width="87.75" height="27.23" fill="#ffe9e4"/>
<rect x="1343.25" y="2199.27" width="86.75" height="27.23" fill="#ffa797"/>
<rect x="1439" y="2063.1" width="43.1" height="163.4" fill="#FF61C3"/>
<text class="st" x="1460.2" y="1387.31">*</text>
<text class="st" x="1460.2" y="1414.52">*</text>
<text class="st" x="1460.2" y="1441.73">*</text>
<text class="st" x="1460.2" y="1468.94">*</text>
<text class="st" x="1460.2" y="1550.58">*</text>
<text class="st" x="1460.2" y="2010.42">*</text>
<text class="rl" x="1490.9" y="1386.41">PE(16:0_18:2)</text>
<text class="rl" x="1490.9" y="1413.62">PE(16:0_20:4)</text>
<text class="rl" x="1490.9" y="1440.83">PE(16:0_22:6)</text>
<text class="rl" x="1490.9" y="1468.04">PE(18:0_18:1)</text>
<text class="rl" x="1490.9" y="1495.26">PE(18:0_18:2)</text>
<text class="rl" x="1490.9" y="1522.47">PE(18:0_20:4)</text>
<text class="rl" x="1490.9" y="1549.68">PE(18:0_22:6)</text>
<text class="rl" x="1490.9" y="1576.89">PE(18:1_18:2)</text>
<text class="rl" x="1490.9" y="1629.89">PC(16:0_16:1)</text>
<text class="rl" x="1490.9" y="1657.08">PC(16:0_18:1)</text>
<text class="rl" x="1490.9" y="1684.26">PC(16:0_18:2)</text>
<text class="rl" x="1490.9" y="1711.45">PC(16:0_20:3)</text>
<text class="rl" x="1490.9" y="1738.63">PC(16:0_20:4)</text>
<text class="rl" x="1490.9" y="1765.82">PC(18:0_18:1)</text>
<text class="rl" x="1490.9" y="1793">PC(18:0_18:2)</text>
<text class="rl" x="1490.9" y="1820.18">PC(18:0_20:4)</text>
<text class="rl" x="1490.9" y="1847.37">PC(18:0_22:6)</text>
<text class="rl" x="1490.9" y="1874.55">PC(18:1_18:2)</text>
<text class="rl" x="1490.9" y="1901.74">PC(18:1_22:6)</text>
<text class="rl" x="1490.9" y="1928.92">PC(18:2_18:2)</text>
<text class="rl" x="1490.9" y="1956.11">PC(18:2_20:4)</text>
<text class="rl" x="1490.9" y="2009.52">PI(18:0_18:2)</text>
<text class="rl" x="1490.9" y="2036.77">PI(18:0_20:4)</text>
<text class="rl" x="1490.9" y="2089.52">SM(14:0)</text>
<text class="rl" x="1490.9" y="2116.75">SM(18:1)</text>
<text class="rl" x="1490.9" y="2143.98">SM(20:0)</text>
<text class="rl" x="1490.9" y="2171.22">SM(20:1)</text>
<text class="rl" x="1490.9" y="2198.45">SM(22:1)</text>
<text class="rl" x="1490.9" y="2225.68">SM(24:1)</text>
<text class="cl" transform="translate(1136.3 2226.7) rotate(-90)">Healthy Control (n=26)</text>
<text class="cl" transform="translate(1226.2 2226.7) rotate(-90)">Mild (n=18)</text>
<text class="cl" transform="translate(1313 2226.7) rotate(-90)">Moderate  (n=19)</text>
<text class="cl" transform="translate(1399.7 2226.7) rotate(-90)">Severe (n=13)</text>
<text class="cl" transform="translate(1473.5 2226.6) rotate(-90)">Class</text>
<text class="tt" transform="translate(1048 1810.75) rotate(-90)">Covid-19 (Shui et al, Cell Metabolism, 2020) Lipidomics</text>
<text class="lt" x="967" y="1343.7">d</text>
<text class="zt" x="1504.2" y="2267.8">Z-score</text>
<rect x="1503.4" y="2282.2" width="41" height="196" fill="url(#grad)"/>
<rect x="1503.4" y="2286.2" width="10" height="2" fill="#fff"/>
<rect x="1534.4" y="2286.2" width="10" height="2" fill="#fff"/>
<text class="ll" x="1552.5" y="2299.2">1</text>
<rect x="1503.4" y="2332.25" width="10" height="2" fill="#fff"/>
<rect x="1534.4" y="2332.25" width="10" height="2" fill="#fff"/>
<text class="ll" x="1552.5" y="2345.25">0.5</text>
<rect x="1503.4" y="2378.3" width="10" height="2" fill="#fff"/>
<rect x="1534.4" y="2378.3" width="10" height="2" fill="#fff"/>
<text class="ll" x="1552.5" y="2391.3">0</text>
<rect x="1503.4" y="2424.35" width="10" height="2" fill="#fff"/>
<rect x="1534.4" y="2424.35" width="10" height="2" fill="#fff"/>
<text class="ll" x="1552.5" y="2437.35">-0.5</text>
<rect x="1503.4" y="2470.4" width="10" height="2" fill="#fff"/>
<rect x="1534.4" y="2470.4" width="10" height="2" fill="#fff"/>
<text class="ll" x="1552.5" y="2483.4">-1</text>
</svg>
</body></html>
